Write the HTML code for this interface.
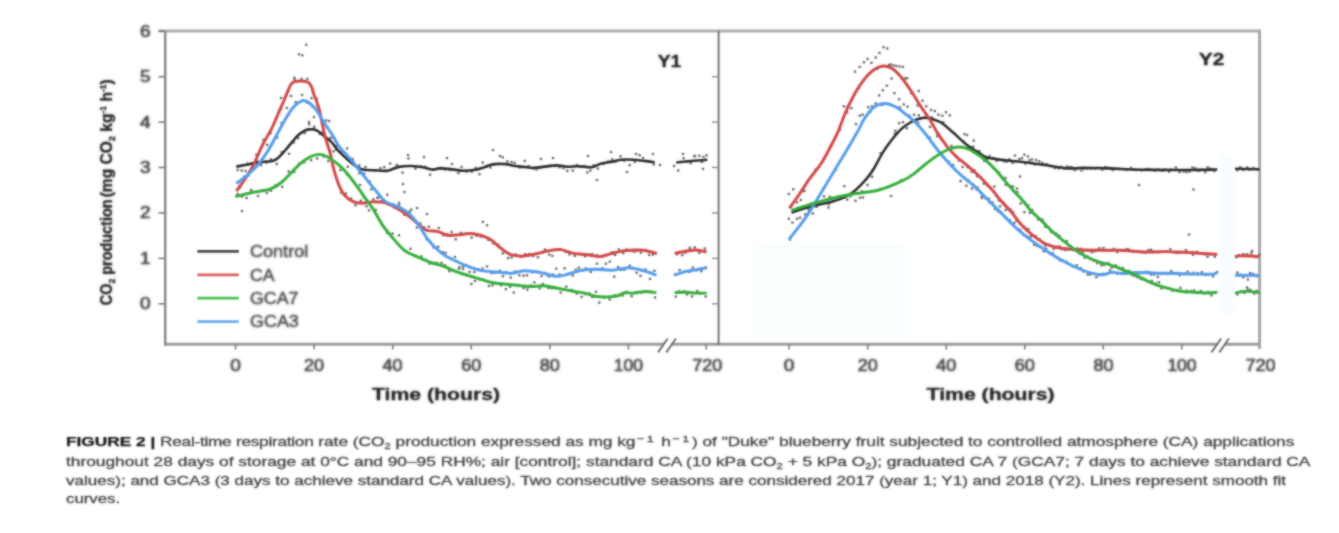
<!DOCTYPE html>
<html lang="en">
<head>
<meta charset="utf-8">
<title>Figure 2 - Real-time respiration rate</title>
<style>
html,body{margin:0;padding:0;background:#fff;}
body{width:1339px;height:533px;position:relative;overflow:hidden;font-family:"Liberation Sans",Arial,sans-serif;}
.fig{position:absolute;left:0;top:0;}
.cap{position:absolute;left:0;top:0;width:1339px;height:533px;filter:url(#softc);}
.cl{position:absolute;left:65.8px;white-space:nowrap;font-size:13px;line-height:19px;height:19px;color:#3c3c3c;-webkit-text-stroke:0.28px #3c3c3c;transform-origin:0 50%;}
.tt{letter-spacing:-0.21px;}
.cl b{color:#111;font-weight:bold;-webkit-text-stroke:0.25px #111;}
.cl sub,.cl sup{font-size:8.5px;line-height:0;position:relative;vertical-align:baseline;}
.cl sub{top:2.5px;}
.cl sup{top:-4.5px;font-size:9.5px;letter-spacing:2px;margin-left:1px;}
</style>
</head>
<body>
<svg class="fig" width="1339" height="533" viewBox="0 0 1339 533">
<defs><filter id="soft" x="0" y="0" width="100%" height="100%" color-interpolation-filters="sRGB"><feGaussianBlur stdDeviation="1.0" result="b"/><feComposite in="SourceGraphic" in2="b" operator="arithmetic" k1="0" k2="0.4" k3="0.6" k4="0"/></filter><filter id="softt" x="-2%" y="-2%" width="104%" height="104%" color-interpolation-filters="sRGB"><feGaussianBlur stdDeviation="0.9" result="b"/><feComposite in="SourceGraphic" in2="b" operator="arithmetic" k1="0" k2="0.3" k3="0.7" k4="0"/></filter><filter id="softb" x="-2%" y="-2%" width="104%" height="104%" color-interpolation-filters="sRGB"><feGaussianBlur stdDeviation="0.85" result="b"/><feComposite in="SourceGraphic" in2="b" operator="arithmetic" k1="0" k2="0.5" k3="0.5" k4="0"/></filter><filter id="softc" x="0" y="0" width="100%" height="100%" color-interpolation-filters="sRGB"><feGaussianBlur stdDeviation="1.0" result="b"/><feComposite in="SourceGraphic" in2="b" operator="arithmetic" k1="0" k2="0.25" k3="0.75" k4="0"/></filter></defs>
<g filter="url(#soft)">
<rect x="754.3" y="243.2" width="152" height="93.8" fill="#fafeff"/>
<rect x="1220" y="154" width="14" height="160" fill="#f8fdff"/>
<g fill="none">
<path d="M158.5,31 H1261" stroke="#aeaeae" stroke-width="3.2"/>
<path d="M164.3,344.2 H664 M671,344.2 H1218.2 M1224.8,344.2 H1260.8" stroke="#9c9c9c" stroke-width="3"/>
<path d="M165.2,31 V345.4" stroke="#868686" stroke-width="2.4"/>
<path d="M718.6,31 V345" stroke="#6e6e6e" stroke-width="1.9"/>
<path d="M1259.6,31 V349" stroke="#a2a2a2" stroke-width="2.8"/>
<path d="M158.5,303.8 H165" stroke="#7a7a7a" stroke-width="1.6"/>
<path d="M712,303.8 H718.6" stroke="#8a8a8a" stroke-width="1.4"/>
<path d="M158.5,258.4 H165" stroke="#7a7a7a" stroke-width="1.6"/>
<path d="M712,258.4 H718.6" stroke="#8a8a8a" stroke-width="1.4"/>
<path d="M158.5,212.9 H165" stroke="#7a7a7a" stroke-width="1.6"/>
<path d="M712,212.9 H718.6" stroke="#8a8a8a" stroke-width="1.4"/>
<path d="M158.5,167.5 H165" stroke="#7a7a7a" stroke-width="1.6"/>
<path d="M712,167.5 H718.6" stroke="#8a8a8a" stroke-width="1.4"/>
<path d="M158.5,122.1 H165" stroke="#7a7a7a" stroke-width="1.6"/>
<path d="M712,122.1 H718.6" stroke="#8a8a8a" stroke-width="1.4"/>
<path d="M158.5,76.7 H165" stroke="#7a7a7a" stroke-width="1.6"/>
<path d="M712,76.7 H718.6" stroke="#8a8a8a" stroke-width="1.4"/>
<path d="M158.5,31.2 H165" stroke="#7a7a7a" stroke-width="1.6"/>
<path d="M235.5,344 V349.6" stroke="#858585" stroke-width="1.7"/>
<path d="M314.1,344 V349.6" stroke="#858585" stroke-width="1.7"/>
<path d="M392.7,344 V349.6" stroke="#858585" stroke-width="1.7"/>
<path d="M471.3,344 V349.6" stroke="#858585" stroke-width="1.7"/>
<path d="M549.9,344 V349.6" stroke="#858585" stroke-width="1.7"/>
<path d="M628.4,344 V349.6" stroke="#858585" stroke-width="1.7"/>
<path d="M706.2,344 V349.6" stroke="#858585" stroke-width="1.7"/>
<path d="M789.1,344 V349.6" stroke="#858585" stroke-width="1.7"/>
<path d="M867.7,344 V349.6" stroke="#858585" stroke-width="1.7"/>
<path d="M946.3,344 V349.6" stroke="#858585" stroke-width="1.7"/>
<path d="M1024.8,344 V349.6" stroke="#858585" stroke-width="1.7"/>
<path d="M1103.3,344 V349.6" stroke="#858585" stroke-width="1.7"/>
<path d="M1181.8,344 V349.6" stroke="#858585" stroke-width="1.7"/>
<path d="M658.1,352.4 L667.7,338.5" stroke="#707070" stroke-width="2"/>
<path d="M666.3,352.4 L675.9,338.5" stroke="#707070" stroke-width="2"/>
<path d="M1211.5,352.4 L1221.1,338.5" stroke="#707070" stroke-width="2"/>
<path d="M1219.3,352.4 L1228.9,338.5" stroke="#707070" stroke-width="2"/>
</g>
<g fill="#6f6f6f">
<rect x="236.5" y="168.7" width="2.4" height="2.4"/>
<rect x="240.5" y="169.3" width="2.4" height="2.4"/>
<rect x="246.2" y="162.4" width="2.4" height="2.4"/>
<rect x="251.7" y="163.3" width="2.4" height="2.4"/>
<rect x="255.7" y="160.1" width="2.4" height="2.4"/>
<rect x="259.8" y="161.5" width="2.4" height="2.4"/>
<rect x="265.1" y="161.4" width="2.4" height="2.4"/>
<rect x="269.7" y="158.1" width="2.4" height="2.4"/>
<rect x="275.6" y="162.8" width="2.4" height="2.4"/>
<rect x="280.7" y="151.0" width="2.4" height="2.4"/>
<rect x="287.8" y="152.6" width="2.4" height="2.4"/>
<rect x="292.6" y="141.2" width="2.4" height="2.4"/>
<rect x="296.9" y="136.9" width="2.4" height="2.4"/>
<rect x="303.5" y="131.9" width="2.4" height="2.4"/>
<rect x="307.9" y="123.0" width="2.4" height="2.4"/>
<rect x="313.0" y="125.5" width="2.4" height="2.4"/>
<rect x="318.7" y="132.7" width="2.4" height="2.4"/>
<rect x="323.2" y="135.5" width="2.4" height="2.4"/>
<rect x="329.3" y="136.7" width="2.4" height="2.4"/>
<rect x="335.1" y="148.6" width="2.4" height="2.4"/>
<rect x="340.4" y="150.4" width="2.4" height="2.4"/>
<rect x="346.6" y="165.6" width="2.4" height="2.4"/>
<rect x="351.2" y="157.7" width="2.4" height="2.4"/>
<rect x="358.0" y="164.3" width="2.4" height="2.4"/>
<rect x="364.2" y="165.9" width="2.4" height="2.4"/>
<rect x="368.5" y="180.3" width="2.4" height="2.4"/>
<rect x="373.7" y="169.2" width="2.4" height="2.4"/>
<rect x="379.2" y="166.9" width="2.4" height="2.4"/>
<rect x="383.1" y="165.9" width="2.4" height="2.4"/>
<rect x="388.9" y="162.4" width="2.4" height="2.4"/>
<rect x="395.6" y="163.8" width="2.4" height="2.4"/>
<rect x="401.4" y="171.4" width="2.4" height="2.4"/>
<rect x="407.2" y="157.3" width="2.4" height="2.4"/>
<rect x="414.2" y="167.4" width="2.4" height="2.4"/>
<rect x="419.6" y="165.3" width="2.4" height="2.4"/>
<rect x="424.3" y="165.8" width="2.4" height="2.4"/>
<rect x="428.9" y="173.4" width="2.4" height="2.4"/>
<rect x="432.5" y="168.0" width="2.4" height="2.4"/>
<rect x="436.4" y="167.3" width="2.4" height="2.4"/>
<rect x="440.5" y="166.8" width="2.4" height="2.4"/>
<rect x="443.9" y="168.3" width="2.4" height="2.4"/>
<rect x="448.8" y="168.6" width="2.4" height="2.4"/>
<rect x="452.0" y="168.3" width="2.4" height="2.4"/>
<rect x="457.2" y="171.9" width="2.4" height="2.4"/>
<rect x="460.3" y="165.8" width="2.4" height="2.4"/>
<rect x="465.5" y="170.4" width="2.4" height="2.4"/>
<rect x="470.5" y="170.4" width="2.4" height="2.4"/>
<rect x="474.5" y="166.7" width="2.4" height="2.4"/>
<rect x="478.3" y="173.0" width="2.4" height="2.4"/>
<rect x="481.6" y="161.3" width="2.4" height="2.4"/>
<rect x="485.0" y="165.6" width="2.4" height="2.4"/>
<rect x="489.2" y="166.3" width="2.4" height="2.4"/>
<rect x="493.6" y="162.9" width="2.4" height="2.4"/>
<rect x="497.6" y="163.2" width="2.4" height="2.4"/>
<rect x="501.5" y="156.1" width="2.4" height="2.4"/>
<rect x="506.1" y="160.2" width="2.4" height="2.4"/>
<rect x="510.4" y="160.8" width="2.4" height="2.4"/>
<rect x="513.5" y="161.7" width="2.4" height="2.4"/>
<rect x="518.7" y="166.4" width="2.4" height="2.4"/>
<rect x="523.6" y="159.7" width="2.4" height="2.4"/>
<rect x="527.5" y="165.0" width="2.4" height="2.4"/>
<rect x="532.1" y="167.4" width="2.4" height="2.4"/>
<rect x="535.2" y="168.2" width="2.4" height="2.4"/>
<rect x="538.5" y="166.8" width="2.4" height="2.4"/>
<rect x="542.3" y="165.6" width="2.4" height="2.4"/>
<rect x="545.6" y="165.2" width="2.4" height="2.4"/>
<rect x="548.8" y="164.4" width="2.4" height="2.4"/>
<rect x="554.0" y="164.8" width="2.4" height="2.4"/>
<rect x="558.5" y="166.0" width="2.4" height="2.4"/>
<rect x="562.3" y="166.9" width="2.4" height="2.4"/>
<rect x="566.1" y="169.7" width="2.4" height="2.4"/>
<rect x="571.6" y="169.4" width="2.4" height="2.4"/>
<rect x="575.7" y="163.9" width="2.4" height="2.4"/>
<rect x="578.9" y="165.3" width="2.4" height="2.4"/>
<rect x="582.7" y="164.9" width="2.4" height="2.4"/>
<rect x="586.1" y="171.3" width="2.4" height="2.4"/>
<rect x="589.1" y="169.4" width="2.4" height="2.4"/>
<rect x="592.4" y="164.2" width="2.4" height="2.4"/>
<rect x="596.7" y="167.3" width="2.4" height="2.4"/>
<rect x="602.1" y="162.6" width="2.4" height="2.4"/>
<rect x="607.2" y="160.3" width="2.4" height="2.4"/>
<rect x="611.1" y="158.2" width="2.4" height="2.4"/>
<rect x="614.4" y="160.3" width="2.4" height="2.4"/>
<rect x="619.3" y="155.1" width="2.4" height="2.4"/>
<rect x="623.1" y="159.4" width="2.4" height="2.4"/>
<rect x="628.5" y="163.9" width="2.4" height="2.4"/>
<rect x="633.6" y="160.6" width="2.4" height="2.4"/>
<rect x="638.4" y="154.0" width="2.4" height="2.4"/>
<rect x="641.9" y="156.9" width="2.4" height="2.4"/>
<rect x="644.9" y="159.7" width="2.4" height="2.4"/>
<rect x="647.9" y="159.9" width="2.4" height="2.4"/>
<rect x="652.6" y="163.2" width="2.4" height="2.4"/>
<rect x="677.0" y="169.3" width="2.4" height="2.4"/>
<rect x="682.3" y="157.1" width="2.4" height="2.4"/>
<rect x="686.2" y="160.6" width="2.4" height="2.4"/>
<rect x="689.6" y="162.0" width="2.4" height="2.4"/>
<rect x="693.1" y="155.0" width="2.4" height="2.4"/>
<rect x="698.1" y="154.6" width="2.4" height="2.4"/>
<rect x="702.3" y="155.7" width="2.4" height="2.4"/>
<rect x="705.4" y="154.1" width="2.4" height="2.4"/>
<rect x="238.9" y="186.0" width="2.4" height="2.4"/>
<rect x="244.3" y="169.8" width="2.4" height="2.4"/>
<rect x="248.8" y="170.4" width="2.4" height="2.4"/>
<rect x="255.3" y="153.4" width="2.4" height="2.4"/>
<rect x="262.3" y="138.6" width="2.4" height="2.4"/>
<rect x="269.3" y="132.0" width="2.4" height="2.4"/>
<rect x="275.6" y="116.7" width="2.4" height="2.4"/>
<rect x="279.9" y="107.7" width="2.4" height="2.4"/>
<rect x="286.7" y="90.4" width="2.4" height="2.4"/>
<rect x="293.3" y="78.4" width="2.4" height="2.4"/>
<rect x="300.4" y="77.7" width="2.4" height="2.4"/>
<rect x="306.1" y="77.7" width="2.4" height="2.4"/>
<rect x="310.3" y="96.9" width="2.4" height="2.4"/>
<rect x="316.3" y="104.2" width="2.4" height="2.4"/>
<rect x="321.9" y="130.7" width="2.4" height="2.4"/>
<rect x="328.7" y="149.0" width="2.4" height="2.4"/>
<rect x="335.2" y="176.9" width="2.4" height="2.4"/>
<rect x="340.0" y="191.3" width="2.4" height="2.4"/>
<rect x="344.7" y="192.4" width="2.4" height="2.4"/>
<rect x="349.9" y="197.3" width="2.4" height="2.4"/>
<rect x="354.2" y="204.0" width="2.4" height="2.4"/>
<rect x="359.6" y="199.6" width="2.4" height="2.4"/>
<rect x="365.3" y="205.0" width="2.4" height="2.4"/>
<rect x="372.2" y="198.2" width="2.4" height="2.4"/>
<rect x="377.7" y="195.9" width="2.4" height="2.4"/>
<rect x="381.6" y="200.4" width="2.4" height="2.4"/>
<rect x="386.9" y="203.0" width="2.4" height="2.4"/>
<rect x="393.4" y="206.2" width="2.4" height="2.4"/>
<rect x="397.8" y="201.7" width="2.4" height="2.4"/>
<rect x="403.5" y="213.3" width="2.4" height="2.4"/>
<rect x="408.5" y="210.4" width="2.4" height="2.4"/>
<rect x="414.9" y="220.4" width="2.4" height="2.4"/>
<rect x="419.1" y="222.3" width="2.4" height="2.4"/>
<rect x="422.7" y="226.2" width="2.4" height="2.4"/>
<rect x="427.6" y="225.5" width="2.4" height="2.4"/>
<rect x="432.5" y="229.7" width="2.4" height="2.4"/>
<rect x="437.7" y="226.8" width="2.4" height="2.4"/>
<rect x="441.9" y="233.8" width="2.4" height="2.4"/>
<rect x="446.2" y="232.9" width="2.4" height="2.4"/>
<rect x="450.4" y="230.8" width="2.4" height="2.4"/>
<rect x="454.6" y="238.1" width="2.4" height="2.4"/>
<rect x="459.7" y="231.7" width="2.4" height="2.4"/>
<rect x="465.1" y="232.5" width="2.4" height="2.4"/>
<rect x="470.4" y="236.4" width="2.4" height="2.4"/>
<rect x="475.4" y="234.5" width="2.4" height="2.4"/>
<rect x="479.5" y="235.3" width="2.4" height="2.4"/>
<rect x="482.6" y="235.5" width="2.4" height="2.4"/>
<rect x="487.2" y="238.6" width="2.4" height="2.4"/>
<rect x="492.1" y="242.1" width="2.4" height="2.4"/>
<rect x="496.9" y="243.6" width="2.4" height="2.4"/>
<rect x="501.5" y="252.1" width="2.4" height="2.4"/>
<rect x="506.9" y="256.8" width="2.4" height="2.4"/>
<rect x="510.4" y="256.2" width="2.4" height="2.4"/>
<rect x="514.5" y="253.3" width="2.4" height="2.4"/>
<rect x="520.0" y="255.6" width="2.4" height="2.4"/>
<rect x="524.0" y="253.0" width="2.4" height="2.4"/>
<rect x="528.2" y="252.8" width="2.4" height="2.4"/>
<rect x="532.0" y="254.8" width="2.4" height="2.4"/>
<rect x="536.7" y="256.0" width="2.4" height="2.4"/>
<rect x="540.8" y="251.6" width="2.4" height="2.4"/>
<rect x="543.8" y="248.4" width="2.4" height="2.4"/>
<rect x="548.0" y="253.3" width="2.4" height="2.4"/>
<rect x="551.1" y="254.6" width="2.4" height="2.4"/>
<rect x="556.5" y="248.2" width="2.4" height="2.4"/>
<rect x="559.7" y="248.4" width="2.4" height="2.4"/>
<rect x="564.6" y="250.7" width="2.4" height="2.4"/>
<rect x="568.2" y="253.1" width="2.4" height="2.4"/>
<rect x="573.5" y="254.6" width="2.4" height="2.4"/>
<rect x="578.5" y="252.7" width="2.4" height="2.4"/>
<rect x="583.7" y="255.0" width="2.4" height="2.4"/>
<rect x="588.1" y="253.4" width="2.4" height="2.4"/>
<rect x="591.2" y="253.1" width="2.4" height="2.4"/>
<rect x="595.9" y="253.9" width="2.4" height="2.4"/>
<rect x="601.2" y="255.3" width="2.4" height="2.4"/>
<rect x="605.7" y="254.0" width="2.4" height="2.4"/>
<rect x="610.8" y="251.1" width="2.4" height="2.4"/>
<rect x="613.9" y="253.7" width="2.4" height="2.4"/>
<rect x="617.7" y="248.2" width="2.4" height="2.4"/>
<rect x="622.0" y="251.9" width="2.4" height="2.4"/>
<rect x="625.3" y="248.3" width="2.4" height="2.4"/>
<rect x="629.6" y="249.3" width="2.4" height="2.4"/>
<rect x="632.9" y="250.5" width="2.4" height="2.4"/>
<rect x="636.0" y="249.7" width="2.4" height="2.4"/>
<rect x="639.7" y="251.4" width="2.4" height="2.4"/>
<rect x="644.5" y="248.8" width="2.4" height="2.4"/>
<rect x="647.9" y="253.7" width="2.4" height="2.4"/>
<rect x="651.7" y="253.5" width="2.4" height="2.4"/>
<rect x="654.7" y="252.3" width="2.4" height="2.4"/>
<rect x="675.8" y="253.0" width="2.4" height="2.4"/>
<rect x="681.1" y="253.9" width="2.4" height="2.4"/>
<rect x="684.3" y="251.4" width="2.4" height="2.4"/>
<rect x="688.5" y="246.6" width="2.4" height="2.4"/>
<rect x="693.5" y="246.2" width="2.4" height="2.4"/>
<rect x="698.2" y="251.6" width="2.4" height="2.4"/>
<rect x="703.6" y="247.3" width="2.4" height="2.4"/>
<rect x="237.8" y="186.9" width="2.4" height="2.4"/>
<rect x="243.0" y="175.5" width="2.4" height="2.4"/>
<rect x="247.2" y="174.0" width="2.4" height="2.4"/>
<rect x="251.3" y="168.6" width="2.4" height="2.4"/>
<rect x="255.7" y="161.3" width="2.4" height="2.4"/>
<rect x="259.8" y="164.0" width="2.4" height="2.4"/>
<rect x="265.9" y="143.7" width="2.4" height="2.4"/>
<rect x="270.7" y="142.7" width="2.4" height="2.4"/>
<rect x="276.0" y="136.2" width="2.4" height="2.4"/>
<rect x="280.4" y="121.8" width="2.4" height="2.4"/>
<rect x="287.4" y="113.7" width="2.4" height="2.4"/>
<rect x="294.5" y="100.9" width="2.4" height="2.4"/>
<rect x="301.5" y="99.4" width="2.4" height="2.4"/>
<rect x="306.4" y="101.5" width="2.4" height="2.4"/>
<rect x="311.5" y="105.5" width="2.4" height="2.4"/>
<rect x="316.9" y="109.2" width="2.4" height="2.4"/>
<rect x="322.4" y="120.8" width="2.4" height="2.4"/>
<rect x="326.3" y="126.4" width="2.4" height="2.4"/>
<rect x="331.5" y="136.2" width="2.4" height="2.4"/>
<rect x="335.5" y="144.6" width="2.4" height="2.4"/>
<rect x="340.1" y="148.3" width="2.4" height="2.4"/>
<rect x="345.9" y="147.2" width="2.4" height="2.4"/>
<rect x="351.9" y="159.9" width="2.4" height="2.4"/>
<rect x="358.1" y="171.9" width="2.4" height="2.4"/>
<rect x="363.0" y="172.4" width="2.4" height="2.4"/>
<rect x="370.1" y="188.1" width="2.4" height="2.4"/>
<rect x="376.1" y="196.7" width="2.4" height="2.4"/>
<rect x="380.1" y="200.2" width="2.4" height="2.4"/>
<rect x="386.0" y="193.5" width="2.4" height="2.4"/>
<rect x="392.3" y="204.6" width="2.4" height="2.4"/>
<rect x="397.9" y="204.2" width="2.4" height="2.4"/>
<rect x="403.4" y="213.4" width="2.4" height="2.4"/>
<rect x="410.0" y="208.4" width="2.4" height="2.4"/>
<rect x="415.7" y="226.3" width="2.4" height="2.4"/>
<rect x="421.9" y="228.0" width="2.4" height="2.4"/>
<rect x="425.4" y="238.0" width="2.4" height="2.4"/>
<rect x="429.2" y="241.1" width="2.4" height="2.4"/>
<rect x="432.4" y="246.3" width="2.4" height="2.4"/>
<rect x="437.0" y="245.5" width="2.4" height="2.4"/>
<rect x="441.5" y="251.0" width="2.4" height="2.4"/>
<rect x="444.4" y="251.7" width="2.4" height="2.4"/>
<rect x="449.4" y="257.2" width="2.4" height="2.4"/>
<rect x="453.7" y="255.8" width="2.4" height="2.4"/>
<rect x="458.3" y="266.1" width="2.4" height="2.4"/>
<rect x="461.9" y="265.1" width="2.4" height="2.4"/>
<rect x="465.0" y="263.9" width="2.4" height="2.4"/>
<rect x="468.4" y="270.7" width="2.4" height="2.4"/>
<rect x="473.2" y="270.8" width="2.4" height="2.4"/>
<rect x="477.1" y="268.0" width="2.4" height="2.4"/>
<rect x="481.3" y="267.4" width="2.4" height="2.4"/>
<rect x="485.8" y="265.2" width="2.4" height="2.4"/>
<rect x="490.3" y="271.9" width="2.4" height="2.4"/>
<rect x="493.9" y="271.5" width="2.4" height="2.4"/>
<rect x="498.7" y="269.8" width="2.4" height="2.4"/>
<rect x="501.7" y="275.0" width="2.4" height="2.4"/>
<rect x="504.8" y="271.0" width="2.4" height="2.4"/>
<rect x="509.5" y="276.4" width="2.4" height="2.4"/>
<rect x="514.1" y="270.4" width="2.4" height="2.4"/>
<rect x="518.2" y="274.1" width="2.4" height="2.4"/>
<rect x="522.4" y="274.5" width="2.4" height="2.4"/>
<rect x="525.8" y="274.1" width="2.4" height="2.4"/>
<rect x="531.2" y="271.0" width="2.4" height="2.4"/>
<rect x="535.3" y="270.7" width="2.4" height="2.4"/>
<rect x="540.3" y="274.9" width="2.4" height="2.4"/>
<rect x="543.9" y="271.8" width="2.4" height="2.4"/>
<rect x="547.4" y="275.2" width="2.4" height="2.4"/>
<rect x="551.8" y="273.5" width="2.4" height="2.4"/>
<rect x="555.1" y="267.6" width="2.4" height="2.4"/>
<rect x="558.4" y="273.4" width="2.4" height="2.4"/>
<rect x="563.4" y="267.2" width="2.4" height="2.4"/>
<rect x="568.1" y="272.1" width="2.4" height="2.4"/>
<rect x="571.6" y="274.3" width="2.4" height="2.4"/>
<rect x="574.6" y="268.6" width="2.4" height="2.4"/>
<rect x="577.6" y="266.5" width="2.4" height="2.4"/>
<rect x="581.3" y="269.2" width="2.4" height="2.4"/>
<rect x="584.6" y="267.3" width="2.4" height="2.4"/>
<rect x="589.6" y="270.6" width="2.4" height="2.4"/>
<rect x="592.6" y="268.3" width="2.4" height="2.4"/>
<rect x="595.8" y="262.4" width="2.4" height="2.4"/>
<rect x="601.1" y="267.0" width="2.4" height="2.4"/>
<rect x="604.7" y="262.5" width="2.4" height="2.4"/>
<rect x="608.6" y="260.4" width="2.4" height="2.4"/>
<rect x="613.0" y="275.5" width="2.4" height="2.4"/>
<rect x="616.9" y="265.9" width="2.4" height="2.4"/>
<rect x="620.0" y="268.6" width="2.4" height="2.4"/>
<rect x="623.2" y="268.4" width="2.4" height="2.4"/>
<rect x="628.5" y="264.6" width="2.4" height="2.4"/>
<rect x="632.0" y="267.0" width="2.4" height="2.4"/>
<rect x="635.4" y="271.5" width="2.4" height="2.4"/>
<rect x="639.3" y="274.7" width="2.4" height="2.4"/>
<rect x="644.3" y="268.4" width="2.4" height="2.4"/>
<rect x="648.8" y="277.7" width="2.4" height="2.4"/>
<rect x="653.2" y="269.6" width="2.4" height="2.4"/>
<rect x="673.7" y="273.4" width="2.4" height="2.4"/>
<rect x="678.5" y="268.9" width="2.4" height="2.4"/>
<rect x="683.1" y="270.4" width="2.4" height="2.4"/>
<rect x="688.4" y="270.6" width="2.4" height="2.4"/>
<rect x="691.6" y="266.4" width="2.4" height="2.4"/>
<rect x="695.3" y="268.9" width="2.4" height="2.4"/>
<rect x="700.1" y="269.9" width="2.4" height="2.4"/>
<rect x="704.7" y="266.4" width="2.4" height="2.4"/>
<rect x="236.4" y="192.8" width="2.4" height="2.4"/>
<rect x="240.8" y="195.3" width="2.4" height="2.4"/>
<rect x="245.4" y="196.8" width="2.4" height="2.4"/>
<rect x="249.9" y="188.8" width="2.4" height="2.4"/>
<rect x="256.8" y="194.8" width="2.4" height="2.4"/>
<rect x="261.1" y="189.3" width="2.4" height="2.4"/>
<rect x="265.6" y="191.7" width="2.4" height="2.4"/>
<rect x="269.7" y="189.4" width="2.4" height="2.4"/>
<rect x="274.4" y="184.4" width="2.4" height="2.4"/>
<rect x="281.1" y="185.7" width="2.4" height="2.4"/>
<rect x="287.5" y="170.3" width="2.4" height="2.4"/>
<rect x="293.0" y="170.7" width="2.4" height="2.4"/>
<rect x="298.1" y="162.5" width="2.4" height="2.4"/>
<rect x="302.9" y="161.0" width="2.4" height="2.4"/>
<rect x="309.9" y="159.0" width="2.4" height="2.4"/>
<rect x="315.9" y="157.2" width="2.4" height="2.4"/>
<rect x="322.6" y="155.2" width="2.4" height="2.4"/>
<rect x="327.2" y="159.8" width="2.4" height="2.4"/>
<rect x="332.4" y="150.1" width="2.4" height="2.4"/>
<rect x="339.1" y="168.7" width="2.4" height="2.4"/>
<rect x="345.8" y="173.1" width="2.4" height="2.4"/>
<rect x="352.0" y="180.3" width="2.4" height="2.4"/>
<rect x="358.8" y="183.9" width="2.4" height="2.4"/>
<rect x="362.6" y="195.9" width="2.4" height="2.4"/>
<rect x="367.8" y="209.1" width="2.4" height="2.4"/>
<rect x="374.5" y="208.8" width="2.4" height="2.4"/>
<rect x="381.5" y="224.0" width="2.4" height="2.4"/>
<rect x="385.9" y="231.6" width="2.4" height="2.4"/>
<rect x="391.4" y="232.4" width="2.4" height="2.4"/>
<rect x="397.7" y="234.1" width="2.4" height="2.4"/>
<rect x="403.7" y="249.8" width="2.4" height="2.4"/>
<rect x="409.3" y="247.6" width="2.4" height="2.4"/>
<rect x="413.3" y="254.8" width="2.4" height="2.4"/>
<rect x="420.2" y="255.2" width="2.4" height="2.4"/>
<rect x="424.8" y="258.8" width="2.4" height="2.4"/>
<rect x="428.3" y="262.3" width="2.4" height="2.4"/>
<rect x="432.9" y="261.8" width="2.4" height="2.4"/>
<rect x="436.0" y="261.8" width="2.4" height="2.4"/>
<rect x="440.3" y="261.8" width="2.4" height="2.4"/>
<rect x="443.8" y="264.1" width="2.4" height="2.4"/>
<rect x="448.2" y="270.0" width="2.4" height="2.4"/>
<rect x="452.3" y="269.4" width="2.4" height="2.4"/>
<rect x="457.7" y="267.5" width="2.4" height="2.4"/>
<rect x="461.8" y="267.7" width="2.4" height="2.4"/>
<rect x="465.3" y="273.9" width="2.4" height="2.4"/>
<rect x="470.1" y="282.8" width="2.4" height="2.4"/>
<rect x="473.8" y="279.8" width="2.4" height="2.4"/>
<rect x="478.4" y="278.2" width="2.4" height="2.4"/>
<rect x="482.4" y="278.7" width="2.4" height="2.4"/>
<rect x="487.7" y="284.8" width="2.4" height="2.4"/>
<rect x="491.2" y="284.1" width="2.4" height="2.4"/>
<rect x="495.2" y="282.5" width="2.4" height="2.4"/>
<rect x="499.9" y="284.1" width="2.4" height="2.4"/>
<rect x="504.7" y="288.0" width="2.4" height="2.4"/>
<rect x="508.9" y="285.5" width="2.4" height="2.4"/>
<rect x="512.6" y="291.3" width="2.4" height="2.4"/>
<rect x="517.6" y="284.5" width="2.4" height="2.4"/>
<rect x="522.5" y="286.8" width="2.4" height="2.4"/>
<rect x="526.1" y="288.4" width="2.4" height="2.4"/>
<rect x="529.6" y="284.3" width="2.4" height="2.4"/>
<rect x="533.1" y="281.3" width="2.4" height="2.4"/>
<rect x="538.4" y="287.0" width="2.4" height="2.4"/>
<rect x="541.7" y="282.9" width="2.4" height="2.4"/>
<rect x="547.1" y="286.6" width="2.4" height="2.4"/>
<rect x="550.4" y="287.0" width="2.4" height="2.4"/>
<rect x="554.3" y="287.0" width="2.4" height="2.4"/>
<rect x="559.5" y="291.3" width="2.4" height="2.4"/>
<rect x="565.0" y="285.5" width="2.4" height="2.4"/>
<rect x="570.3" y="288.8" width="2.4" height="2.4"/>
<rect x="575.6" y="292.3" width="2.4" height="2.4"/>
<rect x="580.4" y="295.7" width="2.4" height="2.4"/>
<rect x="584.3" y="292.9" width="2.4" height="2.4"/>
<rect x="588.2" y="292.3" width="2.4" height="2.4"/>
<rect x="591.1" y="295.7" width="2.4" height="2.4"/>
<rect x="594.8" y="290.7" width="2.4" height="2.4"/>
<rect x="598.0" y="301.4" width="2.4" height="2.4"/>
<rect x="603.4" y="296.3" width="2.4" height="2.4"/>
<rect x="608.4" y="298.2" width="2.4" height="2.4"/>
<rect x="613.4" y="294.2" width="2.4" height="2.4"/>
<rect x="617.5" y="294.5" width="2.4" height="2.4"/>
<rect x="621.4" y="294.3" width="2.4" height="2.4"/>
<rect x="625.3" y="290.7" width="2.4" height="2.4"/>
<rect x="630.5" y="294.9" width="2.4" height="2.4"/>
<rect x="635.5" y="291.9" width="2.4" height="2.4"/>
<rect x="640.3" y="291.5" width="2.4" height="2.4"/>
<rect x="643.4" y="290.7" width="2.4" height="2.4"/>
<rect x="648.7" y="290.7" width="2.4" height="2.4"/>
<rect x="653.9" y="296.3" width="2.4" height="2.4"/>
<rect x="674.6" y="295.4" width="2.4" height="2.4"/>
<rect x="678.2" y="290.2" width="2.4" height="2.4"/>
<rect x="683.0" y="290.1" width="2.4" height="2.4"/>
<rect x="685.9" y="293.2" width="2.4" height="2.4"/>
<rect x="690.8" y="295.2" width="2.4" height="2.4"/>
<rect x="696.1" y="289.8" width="2.4" height="2.4"/>
<rect x="699.1" y="292.2" width="2.4" height="2.4"/>
<rect x="704.5" y="295.3" width="2.4" height="2.4"/>
<rect x="791.6" y="210.9" width="2.4" height="2.4"/>
<rect x="807.6" y="208.5" width="2.4" height="2.4"/>
<rect x="827.7" y="202.8" width="2.4" height="2.4"/>
<rect x="846.0" y="198.4" width="2.4" height="2.4"/>
<rect x="865.0" y="178.2" width="2.4" height="2.4"/>
<rect x="879.4" y="152.1" width="2.4" height="2.4"/>
<rect x="893.7" y="132.4" width="2.4" height="2.4"/>
<rect x="905.6" y="127.0" width="2.4" height="2.4"/>
<rect x="918.7" y="117.6" width="2.4" height="2.4"/>
<rect x="930.5" y="116.1" width="2.4" height="2.4"/>
<rect x="942.1" y="121.1" width="2.4" height="2.4"/>
<rect x="962.7" y="140.6" width="2.4" height="2.4"/>
<rect x="966.9" y="145.5" width="2.4" height="2.4"/>
<rect x="969.4" y="146.0" width="2.4" height="2.4"/>
<rect x="972.0" y="145.5" width="2.4" height="2.4"/>
<rect x="975.3" y="150.0" width="2.4" height="2.4"/>
<rect x="978.1" y="150.0" width="2.4" height="2.4"/>
<rect x="981.9" y="155.1" width="2.4" height="2.4"/>
<rect x="985.8" y="157.6" width="2.4" height="2.4"/>
<rect x="988.4" y="154.9" width="2.4" height="2.4"/>
<rect x="992.5" y="156.8" width="2.4" height="2.4"/>
<rect x="995.7" y="159.7" width="2.4" height="2.4"/>
<rect x="999.5" y="158.7" width="2.4" height="2.4"/>
<rect x="1002.4" y="159.9" width="2.4" height="2.4"/>
<rect x="1005.1" y="160.6" width="2.4" height="2.4"/>
<rect x="1008.2" y="158.2" width="2.4" height="2.4"/>
<rect x="1011.4" y="161.6" width="2.4" height="2.4"/>
<rect x="1014.2" y="160.0" width="2.4" height="2.4"/>
<rect x="1018.2" y="157.9" width="2.4" height="2.4"/>
<rect x="1020.8" y="157.0" width="2.4" height="2.4"/>
<rect x="1024.2" y="162.3" width="2.4" height="2.4"/>
<rect x="1028.4" y="159.1" width="2.4" height="2.4"/>
<rect x="1030.9" y="161.8" width="2.4" height="2.4"/>
<rect x="1033.6" y="163.1" width="2.4" height="2.4"/>
<rect x="1038.0" y="160.0" width="2.4" height="2.4"/>
<rect x="1041.1" y="161.7" width="2.4" height="2.4"/>
<rect x="1045.3" y="162.9" width="2.4" height="2.4"/>
<rect x="1049.3" y="165.0" width="2.4" height="2.4"/>
<rect x="1053.6" y="166.9" width="2.4" height="2.4"/>
<rect x="1057.2" y="167.1" width="2.4" height="2.4"/>
<rect x="1060.0" y="165.7" width="2.4" height="2.4"/>
<rect x="1062.8" y="167.3" width="2.4" height="2.4"/>
<rect x="1065.7" y="165.3" width="2.4" height="2.4"/>
<rect x="1068.5" y="165.8" width="2.4" height="2.4"/>
<rect x="1070.9" y="166.0" width="2.4" height="2.4"/>
<rect x="1073.7" y="168.9" width="2.4" height="2.4"/>
<rect x="1076.7" y="167.6" width="2.4" height="2.4"/>
<rect x="1080.2" y="169.2" width="2.4" height="2.4"/>
<rect x="1082.7" y="167.8" width="2.4" height="2.4"/>
<rect x="1086.2" y="167.6" width="2.4" height="2.4"/>
<rect x="1089.9" y="167.5" width="2.4" height="2.4"/>
<rect x="1093.7" y="167.4" width="2.4" height="2.4"/>
<rect x="1096.9" y="166.7" width="2.4" height="2.4"/>
<rect x="1101.2" y="168.3" width="2.4" height="2.4"/>
<rect x="1104.3" y="165.8" width="2.4" height="2.4"/>
<rect x="1107.5" y="166.6" width="2.4" height="2.4"/>
<rect x="1111.6" y="168.8" width="2.4" height="2.4"/>
<rect x="1114.4" y="167.5" width="2.4" height="2.4"/>
<rect x="1118.3" y="167.7" width="2.4" height="2.4"/>
<rect x="1122.5" y="168.0" width="2.4" height="2.4"/>
<rect x="1125.7" y="168.6" width="2.4" height="2.4"/>
<rect x="1129.9" y="166.7" width="2.4" height="2.4"/>
<rect x="1133.2" y="168.4" width="2.4" height="2.4"/>
<rect x="1136.7" y="168.6" width="2.4" height="2.4"/>
<rect x="1140.4" y="169.1" width="2.4" height="2.4"/>
<rect x="1144.1" y="168.2" width="2.4" height="2.4"/>
<rect x="1147.2" y="167.7" width="2.4" height="2.4"/>
<rect x="1150.2" y="168.6" width="2.4" height="2.4"/>
<rect x="1153.6" y="169.3" width="2.4" height="2.4"/>
<rect x="1157.0" y="168.3" width="2.4" height="2.4"/>
<rect x="1161.0" y="169.6" width="2.4" height="2.4"/>
<rect x="1163.7" y="168.5" width="2.4" height="2.4"/>
<rect x="1168.0" y="170.4" width="2.4" height="2.4"/>
<rect x="1170.5" y="168.5" width="2.4" height="2.4"/>
<rect x="1174.7" y="166.3" width="2.4" height="2.4"/>
<rect x="1178.4" y="170.9" width="2.4" height="2.4"/>
<rect x="1182.4" y="170.2" width="2.4" height="2.4"/>
<rect x="1185.3" y="170.9" width="2.4" height="2.4"/>
<rect x="1188.5" y="170.3" width="2.4" height="2.4"/>
<rect x="1191.2" y="166.3" width="2.4" height="2.4"/>
<rect x="1194.0" y="167.1" width="2.4" height="2.4"/>
<rect x="1197.2" y="169.6" width="2.4" height="2.4"/>
<rect x="1199.8" y="168.6" width="2.4" height="2.4"/>
<rect x="1204.1" y="170.9" width="2.4" height="2.4"/>
<rect x="1206.5" y="166.1" width="2.4" height="2.4"/>
<rect x="1209.0" y="167.4" width="2.4" height="2.4"/>
<rect x="1213.1" y="169.8" width="2.4" height="2.4"/>
<rect x="1236.0" y="169.0" width="2.4" height="2.4"/>
<rect x="1239.0" y="166.0" width="2.4" height="2.4"/>
<rect x="1242.3" y="168.7" width="2.4" height="2.4"/>
<rect x="1246.0" y="166.3" width="2.4" height="2.4"/>
<rect x="1248.4" y="168.4" width="2.4" height="2.4"/>
<rect x="1252.1" y="166.9" width="2.4" height="2.4"/>
<rect x="1256.0" y="168.1" width="2.4" height="2.4"/>
<rect x="789.8" y="206.0" width="2.4" height="2.4"/>
<rect x="802.0" y="189.7" width="2.4" height="2.4"/>
<rect x="814.4" y="168.6" width="2.4" height="2.4"/>
<rect x="829.9" y="144.8" width="2.4" height="2.4"/>
<rect x="846.0" y="111.2" width="2.4" height="2.4"/>
<rect x="857.9" y="86.6" width="2.4" height="2.4"/>
<rect x="876.2" y="67.6" width="2.4" height="2.4"/>
<rect x="887.9" y="63.7" width="2.4" height="2.4"/>
<rect x="903.9" y="77.2" width="2.4" height="2.4"/>
<rect x="916.5" y="104.3" width="2.4" height="2.4"/>
<rect x="935.9" y="134.9" width="2.4" height="2.4"/>
<rect x="954.9" y="155.0" width="2.4" height="2.4"/>
<rect x="957.7" y="159.2" width="2.4" height="2.4"/>
<rect x="962.0" y="160.8" width="2.4" height="2.4"/>
<rect x="966.3" y="165.9" width="2.4" height="2.4"/>
<rect x="970.5" y="170.5" width="2.4" height="2.4"/>
<rect x="973.1" y="169.0" width="2.4" height="2.4"/>
<rect x="975.8" y="175.0" width="2.4" height="2.4"/>
<rect x="980.0" y="176.4" width="2.4" height="2.4"/>
<rect x="982.6" y="182.5" width="2.4" height="2.4"/>
<rect x="986.0" y="184.3" width="2.4" height="2.4"/>
<rect x="989.0" y="186.1" width="2.4" height="2.4"/>
<rect x="992.4" y="190.3" width="2.4" height="2.4"/>
<rect x="995.1" y="194.2" width="2.4" height="2.4"/>
<rect x="997.8" y="199.3" width="2.4" height="2.4"/>
<rect x="1002.0" y="201.1" width="2.4" height="2.4"/>
<rect x="1004.8" y="205.1" width="2.4" height="2.4"/>
<rect x="1008.2" y="208.0" width="2.4" height="2.4"/>
<rect x="1011.9" y="211.2" width="2.4" height="2.4"/>
<rect x="1015.4" y="219.8" width="2.4" height="2.4"/>
<rect x="1019.0" y="222.5" width="2.4" height="2.4"/>
<rect x="1023.4" y="226.1" width="2.4" height="2.4"/>
<rect x="1027.1" y="227.8" width="2.4" height="2.4"/>
<rect x="1030.0" y="234.3" width="2.4" height="2.4"/>
<rect x="1034.4" y="234.8" width="2.4" height="2.4"/>
<rect x="1038.3" y="238.1" width="2.4" height="2.4"/>
<rect x="1041.6" y="242.0" width="2.4" height="2.4"/>
<rect x="1044.1" y="244.5" width="2.4" height="2.4"/>
<rect x="1048.1" y="243.7" width="2.4" height="2.4"/>
<rect x="1052.5" y="247.5" width="2.4" height="2.4"/>
<rect x="1056.1" y="245.6" width="2.4" height="2.4"/>
<rect x="1058.5" y="245.4" width="2.4" height="2.4"/>
<rect x="1060.9" y="248.0" width="2.4" height="2.4"/>
<rect x="1064.2" y="248.9" width="2.4" height="2.4"/>
<rect x="1067.6" y="248.2" width="2.4" height="2.4"/>
<rect x="1070.5" y="247.4" width="2.4" height="2.4"/>
<rect x="1074.2" y="248.2" width="2.4" height="2.4"/>
<rect x="1077.3" y="248.3" width="2.4" height="2.4"/>
<rect x="1079.9" y="247.7" width="2.4" height="2.4"/>
<rect x="1083.4" y="249.4" width="2.4" height="2.4"/>
<rect x="1087.0" y="249.4" width="2.4" height="2.4"/>
<rect x="1090.4" y="250.9" width="2.4" height="2.4"/>
<rect x="1093.0" y="250.1" width="2.4" height="2.4"/>
<rect x="1095.7" y="248.7" width="2.4" height="2.4"/>
<rect x="1098.3" y="247.1" width="2.4" height="2.4"/>
<rect x="1102.3" y="246.8" width="2.4" height="2.4"/>
<rect x="1105.5" y="249.1" width="2.4" height="2.4"/>
<rect x="1109.2" y="249.3" width="2.4" height="2.4"/>
<rect x="1112.7" y="247.8" width="2.4" height="2.4"/>
<rect x="1116.0" y="250.8" width="2.4" height="2.4"/>
<rect x="1120.3" y="249.1" width="2.4" height="2.4"/>
<rect x="1124.5" y="248.4" width="2.4" height="2.4"/>
<rect x="1127.0" y="248.1" width="2.4" height="2.4"/>
<rect x="1129.8" y="249.5" width="2.4" height="2.4"/>
<rect x="1132.3" y="250.0" width="2.4" height="2.4"/>
<rect x="1135.8" y="250.0" width="2.4" height="2.4"/>
<rect x="1140.1" y="251.1" width="2.4" height="2.4"/>
<rect x="1143.7" y="251.5" width="2.4" height="2.4"/>
<rect x="1147.2" y="249.0" width="2.4" height="2.4"/>
<rect x="1149.9" y="248.6" width="2.4" height="2.4"/>
<rect x="1152.9" y="250.5" width="2.4" height="2.4"/>
<rect x="1157.1" y="251.0" width="2.4" height="2.4"/>
<rect x="1161.1" y="250.4" width="2.4" height="2.4"/>
<rect x="1165.2" y="250.3" width="2.4" height="2.4"/>
<rect x="1169.1" y="248.1" width="2.4" height="2.4"/>
<rect x="1172.4" y="251.2" width="2.4" height="2.4"/>
<rect x="1175.2" y="251.6" width="2.4" height="2.4"/>
<rect x="1177.7" y="251.5" width="2.4" height="2.4"/>
<rect x="1180.7" y="250.9" width="2.4" height="2.4"/>
<rect x="1184.8" y="248.8" width="2.4" height="2.4"/>
<rect x="1188.7" y="251.2" width="2.4" height="2.4"/>
<rect x="1191.9" y="253.5" width="2.4" height="2.4"/>
<rect x="1195.9" y="250.7" width="2.4" height="2.4"/>
<rect x="1199.6" y="252.0" width="2.4" height="2.4"/>
<rect x="1204.0" y="253.1" width="2.4" height="2.4"/>
<rect x="1206.4" y="255.6" width="2.4" height="2.4"/>
<rect x="1209.3" y="253.0" width="2.4" height="2.4"/>
<rect x="1213.6" y="255.5" width="2.4" height="2.4"/>
<rect x="1235.0" y="256.0" width="2.4" height="2.4"/>
<rect x="1237.9" y="253.9" width="2.4" height="2.4"/>
<rect x="1242.1" y="253.0" width="2.4" height="2.4"/>
<rect x="1245.8" y="253.1" width="2.4" height="2.4"/>
<rect x="1250.2" y="252.2" width="2.4" height="2.4"/>
<rect x="1254.0" y="255.8" width="2.4" height="2.4"/>
<rect x="1258.2" y="253.3" width="2.4" height="2.4"/>
<rect x="788.7" y="238.3" width="2.4" height="2.4"/>
<rect x="802.0" y="219.1" width="2.4" height="2.4"/>
<rect x="821.9" y="187.6" width="2.4" height="2.4"/>
<rect x="834.5" y="168.4" width="2.4" height="2.4"/>
<rect x="854.6" y="133.6" width="2.4" height="2.4"/>
<rect x="869.1" y="110.6" width="2.4" height="2.4"/>
<rect x="880.7" y="103.8" width="2.4" height="2.4"/>
<rect x="898.6" y="106.2" width="2.4" height="2.4"/>
<rect x="916.9" y="121.5" width="2.4" height="2.4"/>
<rect x="928.7" y="136.6" width="2.4" height="2.4"/>
<rect x="947.7" y="160.8" width="2.4" height="2.4"/>
<rect x="966.8" y="180.2" width="2.4" height="2.4"/>
<rect x="971.0" y="182.8" width="2.4" height="2.4"/>
<rect x="975.2" y="187.8" width="2.4" height="2.4"/>
<rect x="978.0" y="189.7" width="2.4" height="2.4"/>
<rect x="980.6" y="195.4" width="2.4" height="2.4"/>
<rect x="984.7" y="197.2" width="2.4" height="2.4"/>
<rect x="988.3" y="201.2" width="2.4" height="2.4"/>
<rect x="991.3" y="201.3" width="2.4" height="2.4"/>
<rect x="993.9" y="207.8" width="2.4" height="2.4"/>
<rect x="996.7" y="210.0" width="2.4" height="2.4"/>
<rect x="999.7" y="211.2" width="2.4" height="2.4"/>
<rect x="1002.6" y="214.6" width="2.4" height="2.4"/>
<rect x="1005.6" y="217.1" width="2.4" height="2.4"/>
<rect x="1008.6" y="219.0" width="2.4" height="2.4"/>
<rect x="1012.9" y="221.8" width="2.4" height="2.4"/>
<rect x="1016.6" y="228.0" width="2.4" height="2.4"/>
<rect x="1019.0" y="228.7" width="2.4" height="2.4"/>
<rect x="1023.0" y="234.2" width="2.4" height="2.4"/>
<rect x="1026.1" y="235.3" width="2.4" height="2.4"/>
<rect x="1028.9" y="236.3" width="2.4" height="2.4"/>
<rect x="1033.0" y="243.5" width="2.4" height="2.4"/>
<rect x="1035.8" y="244.5" width="2.4" height="2.4"/>
<rect x="1038.1" y="245.4" width="2.4" height="2.4"/>
<rect x="1042.5" y="250.1" width="2.4" height="2.4"/>
<rect x="1044.9" y="247.6" width="2.4" height="2.4"/>
<rect x="1048.9" y="252.0" width="2.4" height="2.4"/>
<rect x="1051.7" y="252.2" width="2.4" height="2.4"/>
<rect x="1055.7" y="256.1" width="2.4" height="2.4"/>
<rect x="1058.7" y="259.1" width="2.4" height="2.4"/>
<rect x="1061.5" y="259.1" width="2.4" height="2.4"/>
<rect x="1065.3" y="260.7" width="2.4" height="2.4"/>
<rect x="1069.0" y="263.2" width="2.4" height="2.4"/>
<rect x="1071.5" y="265.1" width="2.4" height="2.4"/>
<rect x="1075.5" y="264.2" width="2.4" height="2.4"/>
<rect x="1079.2" y="266.9" width="2.4" height="2.4"/>
<rect x="1082.3" y="270.2" width="2.4" height="2.4"/>
<rect x="1086.5" y="273.3" width="2.4" height="2.4"/>
<rect x="1089.0" y="273.2" width="2.4" height="2.4"/>
<rect x="1091.8" y="272.0" width="2.4" height="2.4"/>
<rect x="1095.2" y="275.9" width="2.4" height="2.4"/>
<rect x="1098.3" y="273.9" width="2.4" height="2.4"/>
<rect x="1101.6" y="272.7" width="2.4" height="2.4"/>
<rect x="1105.1" y="272.7" width="2.4" height="2.4"/>
<rect x="1108.8" y="269.2" width="2.4" height="2.4"/>
<rect x="1111.9" y="270.9" width="2.4" height="2.4"/>
<rect x="1116.0" y="272.5" width="2.4" height="2.4"/>
<rect x="1119.7" y="272.0" width="2.4" height="2.4"/>
<rect x="1123.0" y="271.3" width="2.4" height="2.4"/>
<rect x="1127.0" y="271.2" width="2.4" height="2.4"/>
<rect x="1130.3" y="271.2" width="2.4" height="2.4"/>
<rect x="1134.5" y="271.3" width="2.4" height="2.4"/>
<rect x="1137.5" y="272.3" width="2.4" height="2.4"/>
<rect x="1141.3" y="271.9" width="2.4" height="2.4"/>
<rect x="1144.0" y="270.8" width="2.4" height="2.4"/>
<rect x="1146.9" y="270.8" width="2.4" height="2.4"/>
<rect x="1149.6" y="273.3" width="2.4" height="2.4"/>
<rect x="1152.6" y="273.3" width="2.4" height="2.4"/>
<rect x="1156.5" y="275.7" width="2.4" height="2.4"/>
<rect x="1159.1" y="272.7" width="2.4" height="2.4"/>
<rect x="1162.2" y="271.9" width="2.4" height="2.4"/>
<rect x="1166.6" y="272.8" width="2.4" height="2.4"/>
<rect x="1169.9" y="269.9" width="2.4" height="2.4"/>
<rect x="1172.7" y="271.8" width="2.4" height="2.4"/>
<rect x="1175.5" y="271.8" width="2.4" height="2.4"/>
<rect x="1178.6" y="273.9" width="2.4" height="2.4"/>
<rect x="1182.6" y="272.9" width="2.4" height="2.4"/>
<rect x="1186.4" y="270.6" width="2.4" height="2.4"/>
<rect x="1189.8" y="272.8" width="2.4" height="2.4"/>
<rect x="1192.4" y="271.7" width="2.4" height="2.4"/>
<rect x="1196.3" y="272.0" width="2.4" height="2.4"/>
<rect x="1200.6" y="271.1" width="2.4" height="2.4"/>
<rect x="1204.5" y="273.7" width="2.4" height="2.4"/>
<rect x="1207.7" y="273.2" width="2.4" height="2.4"/>
<rect x="1211.9" y="275.1" width="2.4" height="2.4"/>
<rect x="1215.8" y="270.8" width="2.4" height="2.4"/>
<rect x="1236.1" y="271.4" width="2.4" height="2.4"/>
<rect x="1239.4" y="273.4" width="2.4" height="2.4"/>
<rect x="1242.0" y="276.1" width="2.4" height="2.4"/>
<rect x="1245.2" y="274.7" width="2.4" height="2.4"/>
<rect x="1248.9" y="271.9" width="2.4" height="2.4"/>
<rect x="1251.8" y="272.7" width="2.4" height="2.4"/>
<rect x="1255.4" y="275.0" width="2.4" height="2.4"/>
<rect x="792.6" y="209.9" width="2.4" height="2.4"/>
<rect x="810.1" y="202.3" width="2.4" height="2.4"/>
<rect x="828.7" y="195.6" width="2.4" height="2.4"/>
<rect x="849.3" y="195.0" width="2.4" height="2.4"/>
<rect x="860.9" y="190.2" width="2.4" height="2.4"/>
<rect x="879.6" y="187.7" width="2.4" height="2.4"/>
<rect x="899.8" y="179.1" width="2.4" height="2.4"/>
<rect x="916.5" y="169.3" width="2.4" height="2.4"/>
<rect x="932.9" y="156.0" width="2.4" height="2.4"/>
<rect x="950.3" y="144.7" width="2.4" height="2.4"/>
<rect x="969.4" y="147.8" width="2.4" height="2.4"/>
<rect x="973.7" y="151.3" width="2.4" height="2.4"/>
<rect x="976.5" y="152.9" width="2.4" height="2.4"/>
<rect x="980.5" y="155.0" width="2.4" height="2.4"/>
<rect x="983.1" y="159.6" width="2.4" height="2.4"/>
<rect x="985.6" y="159.9" width="2.4" height="2.4"/>
<rect x="988.5" y="162.7" width="2.4" height="2.4"/>
<rect x="991.8" y="166.3" width="2.4" height="2.4"/>
<rect x="995.0" y="169.0" width="2.4" height="2.4"/>
<rect x="997.9" y="171.5" width="2.4" height="2.4"/>
<rect x="1000.8" y="176.1" width="2.4" height="2.4"/>
<rect x="1004.2" y="176.8" width="2.4" height="2.4"/>
<rect x="1007.0" y="184.0" width="2.4" height="2.4"/>
<rect x="1009.9" y="185.2" width="2.4" height="2.4"/>
<rect x="1012.5" y="190.0" width="2.4" height="2.4"/>
<rect x="1016.2" y="190.9" width="2.4" height="2.4"/>
<rect x="1019.5" y="196.3" width="2.4" height="2.4"/>
<rect x="1023.9" y="201.7" width="2.4" height="2.4"/>
<rect x="1027.0" y="204.3" width="2.4" height="2.4"/>
<rect x="1031.0" y="208.8" width="2.4" height="2.4"/>
<rect x="1034.3" y="213.5" width="2.4" height="2.4"/>
<rect x="1037.0" y="218.2" width="2.4" height="2.4"/>
<rect x="1041.1" y="218.4" width="2.4" height="2.4"/>
<rect x="1044.0" y="225.4" width="2.4" height="2.4"/>
<rect x="1047.1" y="226.1" width="2.4" height="2.4"/>
<rect x="1049.9" y="230.5" width="2.4" height="2.4"/>
<rect x="1052.3" y="231.1" width="2.4" height="2.4"/>
<rect x="1055.2" y="232.5" width="2.4" height="2.4"/>
<rect x="1058.2" y="234.6" width="2.4" height="2.4"/>
<rect x="1061.8" y="239.5" width="2.4" height="2.4"/>
<rect x="1065.6" y="240.0" width="2.4" height="2.4"/>
<rect x="1069.7" y="248.0" width="2.4" height="2.4"/>
<rect x="1072.2" y="248.8" width="2.4" height="2.4"/>
<rect x="1076.2" y="247.2" width="2.4" height="2.4"/>
<rect x="1078.8" y="252.7" width="2.4" height="2.4"/>
<rect x="1081.2" y="251.2" width="2.4" height="2.4"/>
<rect x="1083.6" y="256.5" width="2.4" height="2.4"/>
<rect x="1086.5" y="255.4" width="2.4" height="2.4"/>
<rect x="1089.1" y="257.8" width="2.4" height="2.4"/>
<rect x="1093.1" y="259.7" width="2.4" height="2.4"/>
<rect x="1096.2" y="262.0" width="2.4" height="2.4"/>
<rect x="1100.2" y="264.0" width="2.4" height="2.4"/>
<rect x="1102.9" y="263.7" width="2.4" height="2.4"/>
<rect x="1106.9" y="261.9" width="2.4" height="2.4"/>
<rect x="1110.6" y="266.4" width="2.4" height="2.4"/>
<rect x="1114.7" y="264.3" width="2.4" height="2.4"/>
<rect x="1117.5" y="266.3" width="2.4" height="2.4"/>
<rect x="1121.4" y="266.8" width="2.4" height="2.4"/>
<rect x="1124.6" y="271.2" width="2.4" height="2.4"/>
<rect x="1127.6" y="269.8" width="2.4" height="2.4"/>
<rect x="1130.4" y="273.4" width="2.4" height="2.4"/>
<rect x="1132.9" y="274.7" width="2.4" height="2.4"/>
<rect x="1136.2" y="275.9" width="2.4" height="2.4"/>
<rect x="1139.6" y="277.8" width="2.4" height="2.4"/>
<rect x="1143.1" y="278.3" width="2.4" height="2.4"/>
<rect x="1147.2" y="280.1" width="2.4" height="2.4"/>
<rect x="1150.6" y="279.7" width="2.4" height="2.4"/>
<rect x="1154.7" y="282.4" width="2.4" height="2.4"/>
<rect x="1157.8" y="281.0" width="2.4" height="2.4"/>
<rect x="1160.3" y="287.1" width="2.4" height="2.4"/>
<rect x="1164.0" y="286.1" width="2.4" height="2.4"/>
<rect x="1167.6" y="287.0" width="2.4" height="2.4"/>
<rect x="1171.4" y="289.5" width="2.4" height="2.4"/>
<rect x="1175.8" y="288.8" width="2.4" height="2.4"/>
<rect x="1179.2" y="286.8" width="2.4" height="2.4"/>
<rect x="1181.7" y="290.5" width="2.4" height="2.4"/>
<rect x="1185.5" y="289.5" width="2.4" height="2.4"/>
<rect x="1189.6" y="289.9" width="2.4" height="2.4"/>
<rect x="1192.8" y="289.3" width="2.4" height="2.4"/>
<rect x="1196.7" y="291.6" width="2.4" height="2.4"/>
<rect x="1199.5" y="289.9" width="2.4" height="2.4"/>
<rect x="1203.0" y="292.1" width="2.4" height="2.4"/>
<rect x="1207.1" y="290.9" width="2.4" height="2.4"/>
<rect x="1210.3" y="294.2" width="2.4" height="2.4"/>
<rect x="1213.7" y="291.0" width="2.4" height="2.4"/>
<rect x="1236.1" y="293.2" width="2.4" height="2.4"/>
<rect x="1240.1" y="290.2" width="2.4" height="2.4"/>
<rect x="1243.1" y="291.6" width="2.4" height="2.4"/>
<rect x="1246.7" y="288.6" width="2.4" height="2.4"/>
<rect x="1249.1" y="288.6" width="2.4" height="2.4"/>
<rect x="1253.0" y="292.3" width="2.4" height="2.4"/>
<rect x="1255.5" y="289.8" width="2.4" height="2.4"/>
<rect x="305.0" y="43.6" width="2.4" height="2.4"/>
<rect x="297.8" y="53.1" width="2.4" height="2.4"/>
<rect x="301.1" y="54.1" width="2.4" height="2.4"/>
<rect x="293.2" y="76.6" width="2.4" height="2.4"/>
<rect x="279.8" y="96.8" width="2.4" height="2.4"/>
<rect x="289.8" y="94.8" width="2.4" height="2.4"/>
<rect x="285.8" y="106.8" width="2.4" height="2.4"/>
<rect x="300.8" y="93.8" width="2.4" height="2.4"/>
<rect x="315.8" y="97.8" width="2.4" height="2.4"/>
<rect x="318.8" y="110.8" width="2.4" height="2.4"/>
<rect x="312.8" y="115.8" width="2.4" height="2.4"/>
<rect x="307.8" y="120.8" width="2.4" height="2.4"/>
<rect x="324.8" y="119.3" width="2.4" height="2.4"/>
<rect x="327.8" y="119.8" width="2.4" height="2.4"/>
<rect x="240.8" y="209.8" width="2.4" height="2.4"/>
<rect x="403.3" y="190.8" width="2.4" height="2.4"/>
<rect x="415.8" y="206.8" width="2.4" height="2.4"/>
<rect x="425.8" y="212.8" width="2.4" height="2.4"/>
<rect x="401.8" y="182.8" width="2.4" height="2.4"/>
<rect x="539.8" y="157.8" width="2.4" height="2.4"/>
<rect x="551.8" y="156.8" width="2.4" height="2.4"/>
<rect x="586.8" y="154.8" width="2.4" height="2.4"/>
<rect x="609.8" y="150.8" width="2.4" height="2.4"/>
<rect x="634.8" y="152.8" width="2.4" height="2.4"/>
<rect x="651.8" y="152.8" width="2.4" height="2.4"/>
<rect x="681.8" y="152.8" width="2.4" height="2.4"/>
<rect x="693.8" y="154.8" width="2.4" height="2.4"/>
<rect x="595.8" y="178.8" width="2.4" height="2.4"/>
<rect x="625.8" y="170.8" width="2.4" height="2.4"/>
<rect x="481.6" y="220.7" width="2.4" height="2.4"/>
<rect x="485.9" y="224.1" width="2.4" height="2.4"/>
<rect x="491.8" y="148.8" width="2.4" height="2.4"/>
<rect x="498.8" y="154.8" width="2.4" height="2.4"/>
<rect x="445.8" y="156.8" width="2.4" height="2.4"/>
<rect x="450.8" y="162.8" width="2.4" height="2.4"/>
<rect x="406.8" y="153.8" width="2.4" height="2.4"/>
<rect x="422.8" y="155.8" width="2.4" height="2.4"/>
<rect x="700.8" y="160.8" width="2.4" height="2.4"/>
<rect x="701.8" y="167.8" width="2.4" height="2.4"/>
<rect x="658.8" y="163.8" width="2.4" height="2.4"/>
<rect x="672.8" y="164.8" width="2.4" height="2.4"/>
<rect x="853.8" y="70.4" width="2.4" height="2.4"/>
<rect x="858.5" y="65.7" width="2.4" height="2.4"/>
<rect x="862.7" y="61.0" width="2.4" height="2.4"/>
<rect x="866.4" y="57.8" width="2.4" height="2.4"/>
<rect x="870.2" y="61.6" width="2.4" height="2.4"/>
<rect x="874.5" y="56.3" width="2.4" height="2.4"/>
<rect x="878.2" y="51.6" width="2.4" height="2.4"/>
<rect x="882.4" y="46.0" width="2.4" height="2.4"/>
<rect x="886.1" y="47.3" width="2.4" height="2.4"/>
<rect x="889.5" y="63.4" width="2.4" height="2.4"/>
<rect x="892.3" y="64.2" width="2.4" height="2.4"/>
<rect x="895.1" y="64.8" width="2.4" height="2.4"/>
<rect x="898.3" y="65.3" width="2.4" height="2.4"/>
<rect x="901.7" y="65.7" width="2.4" height="2.4"/>
<rect x="890.4" y="77.3" width="2.4" height="2.4"/>
<rect x="885.7" y="84.5" width="2.4" height="2.4"/>
<rect x="881.6" y="89.1" width="2.4" height="2.4"/>
<rect x="877.9" y="94.2" width="2.4" height="2.4"/>
<rect x="874.5" y="102.3" width="2.4" height="2.4"/>
<rect x="870.7" y="105.1" width="2.4" height="2.4"/>
<rect x="867.0" y="106.0" width="2.4" height="2.4"/>
<rect x="861.4" y="113.5" width="2.4" height="2.4"/>
<rect x="858.5" y="114.5" width="2.4" height="2.4"/>
<rect x="854.8" y="122.9" width="2.4" height="2.4"/>
<rect x="842.6" y="105.1" width="2.4" height="2.4"/>
<rect x="846.3" y="105.5" width="2.4" height="2.4"/>
<rect x="850.1" y="107.0" width="2.4" height="2.4"/>
<rect x="838.8" y="128.5" width="2.4" height="2.4"/>
<rect x="906.0" y="77.0" width="2.4" height="2.4"/>
<rect x="910.1" y="92.0" width="2.4" height="2.4"/>
<rect x="917.6" y="89.7" width="2.4" height="2.4"/>
<rect x="921.4" y="99.5" width="2.4" height="2.4"/>
<rect x="925.1" y="105.1" width="2.4" height="2.4"/>
<rect x="929.8" y="108.8" width="2.4" height="2.4"/>
<rect x="933.6" y="109.8" width="2.4" height="2.4"/>
<rect x="937.3" y="113.5" width="2.4" height="2.4"/>
<rect x="941.1" y="114.5" width="2.4" height="2.4"/>
<rect x="944.8" y="111.1" width="2.4" height="2.4"/>
<rect x="948.6" y="114.1" width="2.4" height="2.4"/>
<rect x="893.2" y="92.0" width="2.4" height="2.4"/>
<rect x="897.9" y="98.0" width="2.4" height="2.4"/>
<rect x="902.6" y="103.2" width="2.4" height="2.4"/>
<rect x="906.4" y="105.5" width="2.4" height="2.4"/>
<rect x="908.3" y="114.5" width="2.4" height="2.4"/>
<rect x="912.9" y="113.5" width="2.4" height="2.4"/>
<rect x="917.6" y="114.1" width="2.4" height="2.4"/>
<rect x="897.9" y="122.0" width="2.4" height="2.4"/>
<rect x="901.7" y="121.0" width="2.4" height="2.4"/>
<rect x="894.2" y="129.5" width="2.4" height="2.4"/>
<rect x="928.8" y="125.7" width="2.4" height="2.4"/>
<rect x="787.6" y="192.8" width="2.4" height="2.4"/>
<rect x="792.1" y="188.0" width="2.4" height="2.4"/>
<rect x="803.3" y="189.8" width="2.4" height="2.4"/>
<rect x="799.6" y="198.8" width="2.4" height="2.4"/>
<rect x="795.8" y="201.1" width="2.4" height="2.4"/>
<rect x="787.6" y="217.6" width="2.4" height="2.4"/>
<rect x="791.3" y="221.3" width="2.4" height="2.4"/>
<rect x="795.8" y="217.6" width="2.4" height="2.4"/>
<rect x="798.8" y="216.5" width="2.4" height="2.4"/>
<rect x="804.1" y="213.1" width="2.4" height="2.4"/>
<rect x="811.6" y="212.3" width="2.4" height="2.4"/>
<rect x="843.1" y="185.0" width="2.4" height="2.4"/>
<rect x="866.3" y="183.8" width="2.4" height="2.4"/>
<rect x="870.8" y="175.6" width="2.4" height="2.4"/>
<rect x="822.8" y="195.1" width="2.4" height="2.4"/>
<rect x="827.3" y="206.3" width="2.4" height="2.4"/>
<rect x="815.3" y="205.6" width="2.4" height="2.4"/>
<rect x="854.3" y="199.6" width="2.4" height="2.4"/>
<rect x="858.8" y="196.6" width="2.4" height="2.4"/>
<rect x="861.8" y="196.3" width="2.4" height="2.4"/>
<rect x="889.8" y="194.8" width="2.4" height="2.4"/>
<rect x="1018.8" y="175.3" width="2.4" height="2.4"/>
<rect x="1137.8" y="183.8" width="2.4" height="2.4"/>
<rect x="1192.3" y="188.3" width="2.4" height="2.4"/>
<rect x="1187.8" y="233.3" width="2.4" height="2.4"/>
<rect x="1250.8" y="249.8" width="2.4" height="2.4"/>
<rect x="1246.8" y="278.3" width="2.4" height="2.4"/>
<rect x="1245.8" y="286.3" width="2.4" height="2.4"/>
<rect x="963.2" y="132.9" width="2.4" height="2.4"/>
<rect x="965.8" y="133.8" width="2.4" height="2.4"/>
<rect x="972.6" y="139.4" width="2.4" height="2.4"/>
<rect x="1013.8" y="154.4" width="2.4" height="2.4"/>
<rect x="1023.2" y="153.5" width="2.4" height="2.4"/>
<rect x="1026.8" y="155.3" width="2.4" height="2.4"/>
<rect x="1030.8" y="158.2" width="2.4" height="2.4"/>
<rect x="1034.8" y="158.8" width="2.4" height="2.4"/>
<rect x="951.8" y="163.8" width="2.4" height="2.4"/>
<rect x="961.3" y="165.8" width="2.4" height="2.4"/>
<rect x="959.4" y="179.8" width="2.4" height="2.4"/>
<rect x="966.8" y="178.8" width="2.4" height="2.4"/>
<rect x="972.6" y="184.5" width="2.4" height="2.4"/>
<rect x="976.3" y="186.3" width="2.4" height="2.4"/>
<rect x="970.8" y="187.3" width="2.4" height="2.4"/>
<rect x="965.1" y="184.5" width="2.4" height="2.4"/>
<rect x="993.2" y="185.4" width="2.4" height="2.4"/>
<rect x="1004.5" y="183.5" width="2.4" height="2.4"/>
<rect x="1011.8" y="185.4" width="2.4" height="2.4"/>
<rect x="1015.8" y="187.3" width="2.4" height="2.4"/>
<rect x="998.8" y="205.1" width="2.4" height="2.4"/>
<rect x="1004.5" y="208.8" width="2.4" height="2.4"/>
<rect x="1009.8" y="208.8" width="2.4" height="2.4"/>
<rect x="980.8" y="196.8" width="2.4" height="2.4"/>
<rect x="987.6" y="197.6" width="2.4" height="2.4"/>
<rect x="1019.5" y="202.3" width="2.4" height="2.4"/>
<rect x="1023.2" y="210.8" width="2.4" height="2.4"/>
<rect x="1028.8" y="211.6" width="2.4" height="2.4"/>
</g>
<g fill="none" stroke-width="2.95" stroke-linecap="butt" stroke-linejoin="round">
<path d="M236.3,166.6 C237.8,166.3 242.2,165.5 245.0,165.0 C247.8,164.5 250.3,163.9 253.1,163.4 C255.9,162.9 258.9,162.3 262.0,161.9 C265.1,161.5 269.0,161.6 271.4,161.2 C273.8,160.8 274.5,160.4 276.1,159.4 C277.7,158.4 279.2,156.8 280.8,155.2 C282.4,153.6 283.9,151.8 285.5,150.0 C287.1,148.2 288.6,146.3 290.2,144.4 C291.8,142.5 293.2,140.5 294.8,138.8 C296.4,137.1 297.9,135.4 299.5,134.1 C301.1,132.8 302.6,131.6 304.2,130.8 C305.8,130.0 307.3,129.6 308.9,129.4 C310.5,129.2 312.0,129.1 313.6,129.4 C315.2,129.7 316.7,130.4 318.3,131.3 C319.9,132.2 321.4,133.8 323.0,135.0 C324.6,136.2 326.2,137.6 327.7,138.8 C329.2,140.1 330.4,140.6 332.0,142.5 C333.6,144.4 335.1,147.2 337.6,150.0 C340.1,152.8 343.9,156.3 347.0,159.1 C350.1,161.9 353.5,164.8 356.3,166.6 C359.1,168.4 360.7,169.2 363.8,169.8 C366.9,170.4 371.1,170.2 375.0,170.3 C378.9,170.5 383.5,171.3 387.5,170.7 C391.5,170.1 394.7,167.7 398.8,166.9 C402.9,166.1 407.8,165.9 411.9,166.0 C415.9,166.1 419.7,166.7 423.1,167.3 C426.5,167.9 429.7,169.5 432.5,169.7 C435.3,169.9 436.9,168.5 440.0,168.4 C443.1,168.3 447.6,168.8 451.3,169.2 C455.1,169.6 458.4,170.6 462.5,170.7 C466.6,170.8 471.9,170.3 475.7,169.7 C479.4,169.1 481.9,167.8 485.0,166.9 C488.1,166.0 490.9,164.6 494.4,164.1 C497.8,163.6 502.3,163.8 505.7,164.1 C509.1,164.4 511.9,165.5 515.0,166.0 C518.1,166.5 521.3,166.6 524.4,166.9 C527.5,167.2 530.4,167.9 533.8,167.8 C537.2,167.8 541.2,167.0 545.0,166.6 C548.8,166.2 552.5,165.4 556.3,165.4 C560.0,165.4 563.8,166.5 567.5,166.7 C571.2,166.8 574.7,166.2 578.8,166.3 C582.9,166.4 588.1,167.7 591.9,167.2 C595.6,166.7 597.9,164.4 601.3,163.5 C604.7,162.6 609.1,162.2 612.5,161.6 C615.9,161.0 618.5,160.0 621.9,159.7 C625.3,159.4 629.4,159.5 633.1,159.7 C636.9,159.9 640.8,160.6 644.4,161.0 C648.0,161.4 653.0,162.0 654.7,162.2" stroke="#2b2b2b" stroke-width="2.6"/>
<path d="M676.3,162.5 C678.8,162.2 686.1,161.5 691.3,161.0 C696.5,160.5 704.6,159.9 707.3,159.7" stroke="#2b2b2b" stroke-width="2.6"/>
<path d="M236.3,191.0 C237.6,189.3 241.0,184.9 243.8,180.7 C246.6,176.5 250.0,171.6 253.1,165.7 C256.2,159.8 259.4,151.3 262.5,145.0 C265.6,138.7 269.0,134.0 271.9,128.1 C274.8,122.2 277.9,114.2 279.9,109.6 C281.9,105.0 282.8,103.4 284.0,100.5 C285.2,97.6 286.3,94.6 287.3,92.3 C288.3,90.0 289.1,88.0 289.8,86.5 C290.5,85.0 290.9,84.3 291.7,83.5 C292.5,82.7 293.3,82.0 294.8,81.6 C296.3,81.2 298.6,80.9 300.5,80.9 C302.4,80.9 304.8,81.1 306.3,81.6 C307.8,82.0 308.7,82.6 309.6,83.6 C310.5,84.5 311.0,85.6 311.7,87.3 C312.4,89.0 312.9,91.3 313.8,93.9 C314.7,96.5 316.2,100.2 317.1,103.0 C318.1,105.8 318.3,105.5 319.5,110.6 C320.7,115.7 322.6,126.8 324.4,133.8 C326.1,140.8 328.4,146.6 330.0,152.5 C331.6,158.4 332.2,163.8 333.8,169.4 C335.4,175.0 337.5,181.9 339.4,186.3 C341.3,190.7 342.8,193.2 345.0,195.7 C347.2,198.2 349.8,200.1 352.6,201.3 C355.4,202.6 358.9,203.1 362.0,203.2 C365.1,203.3 368.6,202.1 371.3,201.9 C374.0,201.7 375.6,201.8 378.0,202.0 C380.4,202.2 382.5,201.9 385.6,202.9 C388.8,203.9 393.1,206.0 396.9,208.1 C400.6,210.2 404.4,212.8 408.1,215.6 C411.9,218.4 416.3,222.6 419.4,225.0 C422.5,227.4 423.8,229.2 426.9,230.3 C430.0,231.4 434.7,230.8 438.1,231.6 C441.5,232.4 444.1,234.8 447.5,235.3 C450.9,235.8 455.1,235.1 458.8,234.8 C462.6,234.5 466.2,233.4 470.0,233.5 C473.8,233.6 477.9,234.5 481.3,235.5 C484.7,236.5 487.5,237.6 490.6,239.6 C493.7,241.6 496.9,245.1 500.0,247.5 C503.1,249.9 506.3,252.7 509.4,254.1 C512.5,255.5 516.2,255.7 518.8,256.0 C521.4,256.3 522.1,256.2 525.0,255.8 C527.9,255.4 532.5,254.6 536.3,253.8 C540.0,253.0 543.5,251.7 547.5,251.0 C551.5,250.3 556.2,249.2 560.6,249.6 C565.0,250.0 569.4,252.6 573.8,253.4 C578.2,254.2 582.5,254.2 586.9,254.7 C591.3,255.2 595.9,256.8 600.0,256.6 C604.1,256.4 607.1,254.6 611.3,253.6 C615.5,252.6 620.2,251.2 625.0,250.6 C629.8,250.0 635.9,249.8 640.0,250.0 C644.1,250.2 646.6,250.9 649.4,251.5 C652.1,252.1 655.3,253.1 656.5,253.4" stroke="#d34545"/>
<path d="M674.7,253.4 C676.7,253.0 683.3,251.6 686.9,251.0 C690.5,250.4 693.0,249.8 696.3,250.0 C699.6,250.2 704.9,251.6 706.6,251.9" stroke="#d34545"/>
<path d="M236.3,183.5 C238.2,182.1 243.8,178.3 247.5,175.0 C251.2,171.7 255.4,167.9 258.8,163.8 C262.2,159.7 264.7,156.2 268.1,150.6 C271.5,145.0 275.9,136.2 279.4,130.0 C282.8,123.8 286.0,117.8 288.8,113.5 C291.6,109.2 293.7,106.5 296.3,104.4 C298.9,102.3 301.6,100.1 304.7,100.7 C307.8,101.3 311.7,104.5 315.0,108.2 C318.3,112.0 321.6,118.8 324.4,123.2 C327.2,127.6 329.5,130.5 332.0,134.4 C334.5,138.3 336.6,143.1 339.4,146.9 C342.2,150.7 345.7,153.6 348.8,157.2 C351.9,160.8 355.0,164.6 358.1,168.5 C361.2,172.4 364.5,176.9 367.5,180.7 C370.5,184.5 373.3,187.8 376.3,191.3 C379.3,194.8 382.2,199.1 385.6,201.6 C389.0,204.1 393.1,204.4 396.9,206.3 C400.6,208.2 404.7,210.0 408.1,212.8 C411.5,215.6 414.4,218.9 417.5,223.1 C420.6,227.3 423.8,233.9 426.9,238.1 C430.0,242.3 433.2,245.5 436.3,248.5 C439.4,251.5 441.9,253.7 445.6,256.0 C449.4,258.3 454.7,260.6 458.8,262.5 C462.9,264.4 466.2,265.8 470.0,267.2 C473.8,268.6 476.9,269.8 481.3,270.6 C485.7,271.4 491.3,271.6 496.3,272.0 C501.3,272.4 506.5,273.4 511.3,273.2 C516.1,273.0 520.2,270.9 525.0,270.8 C529.8,270.7 534.7,271.6 540.0,272.5 C545.3,273.4 551.9,276.1 556.9,276.3 C561.9,276.5 565.9,274.5 570.0,273.5 C574.1,272.5 576.9,271.0 581.3,270.3 C585.7,269.6 591.3,269.3 596.3,269.3 C601.3,269.3 607.2,270.4 611.3,270.3 C615.4,270.2 618.1,269.2 621.0,268.8 C623.9,268.4 625.6,267.7 628.8,267.8 C632.0,267.9 636.6,268.9 640.0,269.7 C643.4,270.5 646.6,271.6 649.4,272.5 C652.1,273.4 655.3,274.8 656.5,275.3" stroke="#529cee"/>
<path d="M674.7,275.0 C676.4,274.4 681.4,272.5 685.0,271.6 C688.6,270.7 692.7,270.3 696.3,269.7 C699.9,269.1 704.9,268.1 706.6,267.8" stroke="#529cee"/>
<path d="M235.3,196.6 C238.3,195.9 247.3,193.6 253.1,192.3 C258.9,191.1 265.3,190.7 270.0,189.1 C274.7,187.5 277.9,185.2 281.3,182.5 C284.8,179.8 287.6,176.3 290.7,173.2 C293.8,170.1 296.9,166.5 300.0,163.8 C303.1,161.1 306.3,158.8 309.4,157.2 C312.5,155.6 316.0,154.6 318.8,154.4 C321.6,154.2 323.2,154.7 326.3,156.3 C329.4,157.9 334.2,161.0 337.6,163.8 C341.1,166.6 343.9,169.6 347.0,173.2 C350.1,176.8 353.2,181.2 356.3,185.4 C359.4,189.6 362.6,194.4 365.3,198.2 C368.0,202.0 369.7,203.8 372.5,208.1 C375.3,212.4 378.8,219.4 381.9,224.1 C385.0,228.8 387.6,231.9 391.3,236.3 C395.1,240.7 400.0,246.9 404.4,250.3 C408.8,253.7 413.1,254.9 417.5,256.9 C421.9,258.9 426.2,260.9 430.6,262.5 C435.0,264.1 439.4,264.7 443.8,266.3 C448.2,267.9 452.5,270.3 456.9,271.9 C461.3,273.5 465.9,274.8 470.0,276.0 C474.1,277.2 477.4,278.3 481.3,279.4 C485.2,280.5 488.0,281.9 493.1,282.8 C498.2,283.7 505.6,284.1 511.9,284.7 C518.1,285.3 525.3,286.4 530.6,286.6 C535.9,286.8 539.1,285.4 543.8,285.7 C548.5,286.0 554.1,287.6 558.8,288.5 C563.5,289.4 567.5,290.2 571.9,291.0 C576.3,291.8 580.9,292.2 585.0,293.1 C589.1,294.0 592.5,295.9 596.3,296.5 C600.0,297.1 604.1,297.0 607.5,296.9 C610.9,296.8 614.0,296.7 616.9,296.0 C619.8,295.3 622.4,293.3 625.0,292.8 C627.6,292.3 629.4,293.3 632.5,293.1 C635.6,292.9 639.8,291.7 643.8,291.6 C647.8,291.5 654.4,292.4 656.5,292.6" stroke="#33ae39"/>
<path d="M674.7,292.6 C676.7,292.5 683.3,292.1 686.9,292.2 C690.5,292.3 693.0,293.0 696.3,293.1 C699.6,293.2 704.9,293.1 706.6,293.1" stroke="#33ae39"/>
<path d="M791.5,212.6 C792.8,212.2 796.3,210.8 799.0,210.0 C801.7,209.2 803.6,208.5 807.5,207.5 C811.4,206.5 818.3,204.8 822.5,203.8 C826.7,202.8 829.0,202.4 832.5,201.4 C836.0,200.4 840.5,199.1 843.8,197.6 C847.1,196.1 849.8,194.5 852.5,192.5 C855.2,190.5 857.5,188.3 860.0,185.8 C862.5,183.3 865.2,180.3 867.5,177.5 C869.8,174.7 871.0,173.3 873.6,169.0 C876.2,164.7 880.0,156.9 883.2,151.9 C886.4,146.9 889.5,142.7 892.6,138.8 C895.7,134.9 898.9,131.2 902.0,128.4 C905.1,125.6 908.8,123.4 911.3,121.9 C913.8,120.4 914.6,120.1 917.0,119.4 C919.4,118.7 922.6,117.6 925.4,117.6 C928.2,117.6 931.1,118.7 933.8,119.6 C936.5,120.5 938.2,120.6 941.4,122.8 C944.6,125.0 949.0,128.9 953.1,132.5 C957.2,136.1 962.2,141.2 966.3,144.4 C970.4,147.6 974.1,149.7 977.5,151.9 C980.9,154.1 982.2,156.1 986.9,157.5 C991.6,158.9 999.5,159.5 1005.7,160.3 C1012.0,161.1 1017.9,161.4 1024.4,162.2 C1031.0,163.0 1037.8,164.0 1045.0,165.0 C1052.2,166.0 1061.3,167.9 1067.6,168.4 C1073.9,168.9 1075.7,167.8 1082.6,167.8 C1089.5,167.8 1099.2,168.1 1108.8,168.4 C1118.4,168.7 1128.1,169.4 1140.0,169.7 C1151.9,170.0 1167.1,170.0 1180.0,170.0 C1192.9,170.0 1211.1,169.6 1217.3,169.5" stroke="#2b2b2b" stroke-width="2.6"/>
<path d="M1235.1,168.8 L1259.5,169.3" stroke="#2b2b2b" stroke-width="2.6"/>
<path d="M789.4,208.2 C791.0,206.0 795.4,200.0 798.8,195.0 C802.2,190.0 806.2,183.5 810.0,178.2 C813.8,172.9 817.8,168.5 821.3,163.2 C824.8,157.9 827.9,151.6 830.7,146.3 C833.5,141.0 835.7,137.0 838.2,131.3 C840.7,125.6 842.9,118.3 845.7,112.0 C848.5,105.7 851.9,98.7 855.0,93.2 C858.1,87.7 861.3,83.0 864.4,79.1 C867.5,75.2 870.7,71.9 873.8,69.7 C876.9,67.5 880.1,66.2 883.2,66.0 C886.3,65.8 889.5,66.8 892.6,68.8 C895.7,70.8 898.9,74.5 902.0,78.2 C905.1,82.0 908.2,86.6 911.3,91.3 C914.4,96.0 917.6,101.5 920.7,106.3 C923.8,111.1 927.3,115.5 930.1,120.0 C932.9,124.5 934.8,128.7 937.6,133.1 C940.4,137.5 943.9,142.4 947.0,146.3 C950.1,150.2 952.6,153.0 956.4,156.6 C960.2,160.2 965.9,164.2 970.0,167.8 C974.1,171.4 977.5,174.4 981.3,178.2 C985.0,181.9 989.3,186.7 992.5,190.3 C995.7,193.9 997.3,196.5 1000.3,200.0 C1003.3,203.5 1007.1,207.1 1010.7,211.3 C1014.3,215.5 1018.1,221.2 1021.9,225.3 C1025.7,229.4 1029.5,232.7 1033.2,235.7 C1037.0,238.7 1040.7,241.3 1044.4,243.2 C1048.2,245.1 1051.0,246.3 1055.7,247.3 C1060.4,248.3 1066.0,248.7 1072.6,249.2 C1079.2,249.7 1087.3,250.1 1095.1,250.3 C1102.9,250.5 1110.9,250.0 1119.5,250.3 C1128.1,250.6 1139.2,251.8 1146.9,252.0 C1154.6,252.2 1159.5,251.6 1165.7,251.6 C1172.0,251.6 1178.2,251.9 1184.4,252.2 C1190.7,252.5 1197.7,253.1 1203.2,253.5 C1208.7,253.9 1215.0,254.2 1217.3,254.4" stroke="#d34545"/>
<path d="M1235.1,256.3 C1236.3,256.2 1238.5,255.6 1242.6,255.7 C1246.7,255.8 1256.7,256.5 1259.5,256.7" stroke="#d34545"/>
<path d="M788.9,239.4 C791.5,236.1 799.6,226.2 804.4,219.4 C809.2,212.6 813.4,205.4 817.5,198.8 C821.6,192.2 825.0,186.2 828.8,180.0 C832.5,173.8 836.2,167.6 840.0,161.3 C843.8,155.1 848.2,147.8 851.3,142.5 C854.4,137.2 856.6,133.4 858.8,129.4 C861.0,125.4 861.9,122.3 864.4,118.6 C866.9,114.9 870.3,109.7 873.8,107.2 C877.2,104.7 881.4,103.5 885.1,103.5 C888.9,103.5 892.5,105.2 896.3,107.2 C900.0,109.2 904.5,113.2 907.6,115.7 C910.7,118.2 912.0,118.8 915.1,122.0 C918.2,125.2 922.5,130.3 926.3,135.0 C930.0,139.7 933.9,145.3 937.6,150.0 C941.4,154.7 945.0,159.0 948.8,163.1 C952.5,167.2 955.9,170.6 960.1,174.4 C964.3,178.2 969.1,181.4 973.8,185.7 C978.5,190.0 983.5,195.4 988.1,200.0 C992.7,204.6 996.6,208.4 1001.3,213.1 C1006.0,217.8 1011.3,223.6 1016.3,228.1 C1021.3,232.6 1026.3,236.5 1031.3,240.3 C1036.3,244.1 1041.3,247.4 1046.3,250.7 C1051.3,254.0 1056.3,257.2 1061.3,260.0 C1066.3,262.8 1071.3,265.3 1076.3,267.5 C1081.3,269.7 1086.9,272.0 1091.3,273.2 C1095.7,274.4 1099.1,274.8 1102.6,274.7 C1106.0,274.6 1108.6,272.6 1112.0,272.4 C1115.4,272.2 1119.1,273.5 1123.2,273.5 C1127.3,273.5 1132.3,272.5 1136.4,272.4 C1140.5,272.3 1143.7,272.7 1147.6,272.8 C1151.5,272.9 1155.4,273.1 1160.0,273.2 C1164.6,273.3 1169.4,273.4 1175.0,273.5 C1180.6,273.6 1187.5,274.0 1193.8,274.1 C1200.1,274.2 1208.7,274.3 1212.6,274.1 C1216.5,273.9 1216.5,273.0 1217.3,272.8" stroke="#529cee"/>
<path d="M1235.1,275.4 L1259.5,275.4" stroke="#529cee"/>
<path d="M791.5,210.6 C792.8,210.1 796.3,208.7 799.0,207.8 C801.7,206.9 803.6,206.5 807.5,205.3 C811.4,204.1 817.5,202.2 822.5,200.8 C827.5,199.4 832.5,198.1 837.5,197.0 C842.5,195.9 847.5,194.8 852.5,194.0 C857.5,193.2 863.2,192.6 867.5,192.0 C871.8,191.4 874.5,191.1 878.0,190.2 C881.5,189.3 884.8,188.1 888.8,186.6 C892.8,185.1 897.9,183.0 902.0,181.0 C906.1,179.0 909.5,177.1 913.2,174.4 C917.0,171.7 920.8,168.0 924.5,165.0 C928.2,162.0 932.0,159.1 935.7,156.6 C939.5,154.1 943.5,151.6 947.0,150.0 C950.5,148.4 953.3,147.5 956.4,147.2 C959.5,146.9 962.6,147.2 965.7,148.1 C968.8,149.0 971.6,150.6 975.1,152.8 C978.6,155.0 983.4,158.3 986.9,161.3 C990.4,164.3 993.2,167.3 996.3,170.7 C999.4,174.1 1002.6,178.3 1005.7,181.9 C1008.8,185.5 1011.9,188.8 1015.0,192.2 C1018.1,195.6 1021.7,199.3 1024.4,202.5 C1027.1,205.7 1028.3,208.1 1031.3,211.3 C1034.3,214.5 1038.8,218.0 1042.5,221.6 C1046.2,225.2 1050.0,229.4 1053.8,232.8 C1057.6,236.2 1061.3,239.2 1065.1,242.2 C1068.8,245.2 1072.5,248.2 1076.3,250.7 C1080.0,253.2 1083.8,255.3 1087.6,257.2 C1091.3,259.1 1095.0,260.6 1098.8,261.9 C1102.5,263.2 1105.8,263.5 1110.1,264.9 C1114.4,266.3 1119.8,268.5 1124.4,270.4 C1129.0,272.2 1133.1,274.0 1137.5,276.0 C1141.9,278.0 1146.3,280.7 1150.7,282.6 C1155.1,284.5 1159.1,285.8 1163.8,287.2 C1168.5,288.6 1173.8,290.1 1178.8,291.0 C1183.8,291.9 1188.8,292.0 1193.8,292.3 C1198.8,292.6 1204.9,292.9 1208.8,292.9 C1212.7,292.9 1215.9,292.4 1217.3,292.3" stroke="#33ae39"/>
<path d="M1235.1,292.9 C1237.0,292.6 1242.2,291.5 1246.3,291.4 C1250.4,291.3 1257.3,292.3 1259.5,292.5" stroke="#33ae39"/>
</g>
<g fill="none" stroke-width="2.8">
<path d="M197.3,251.3 H238.8" stroke="#484848"/>
<path d="M197.3,274.8 H238.8" stroke="#dc6060"/>
<path d="M197.3,298.2 H238.8" stroke="#45bf4b"/>
<path d="M197.3,321.6 H238.8" stroke="#68abf3"/>
</g>
<g font-family="'Liberation Sans', Arial, sans-serif" fill="#3d3d3d" stroke="#3d3d3d" stroke-width="0.62" stroke-linejoin="round" filter="url(#softt)">
<text x="250" y="257.1" font-size="16.4" stroke-width="0.45" textLength="58.2" lengthAdjust="spacingAndGlyphs">Control</text>
<text x="250" y="280.6" font-size="16.4" stroke-width="0.45" textLength="24.6" lengthAdjust="spacingAndGlyphs">CA</text>
<text x="250" y="304.0" font-size="16.4" stroke-width="0.45" textLength="48.4" lengthAdjust="spacingAndGlyphs">GCA7</text>
<text x="250" y="327.4" font-size="16.4" stroke-width="0.45" textLength="48.8" lengthAdjust="spacingAndGlyphs">GCA3</text>
<text x="145.2" y="309.3" font-size="15.8" text-anchor="middle" textLength="10.6" lengthAdjust="spacingAndGlyphs">0</text>
<text x="145.2" y="263.9" font-size="15.8" text-anchor="middle" textLength="10.6" lengthAdjust="spacingAndGlyphs">1</text>
<text x="145.2" y="218.4" font-size="15.8" text-anchor="middle" textLength="10.6" lengthAdjust="spacingAndGlyphs">2</text>
<text x="145.2" y="173.0" font-size="15.8" text-anchor="middle" textLength="10.6" lengthAdjust="spacingAndGlyphs">3</text>
<text x="145.2" y="127.6" font-size="15.8" text-anchor="middle" textLength="10.6" lengthAdjust="spacingAndGlyphs">4</text>
<text x="145.2" y="82.2" font-size="15.8" text-anchor="middle" textLength="10.6" lengthAdjust="spacingAndGlyphs">5</text>
<text x="145.2" y="36.7" font-size="15.8" text-anchor="middle" textLength="10.6" lengthAdjust="spacingAndGlyphs">6</text>
<text x="235.5" y="370.6" font-size="15.8" text-anchor="middle" textLength="10.6" lengthAdjust="spacingAndGlyphs">0</text>
<text x="314.1" y="370.6" font-size="15.8" text-anchor="middle" textLength="20.0" lengthAdjust="spacingAndGlyphs">20</text>
<text x="392.6" y="370.6" font-size="15.8" text-anchor="middle" textLength="20.0" lengthAdjust="spacingAndGlyphs">40</text>
<text x="471.2" y="370.6" font-size="15.8" text-anchor="middle" textLength="20.0" lengthAdjust="spacingAndGlyphs">60</text>
<text x="549.8" y="370.6" font-size="15.8" text-anchor="middle" textLength="20.0" lengthAdjust="spacingAndGlyphs">80</text>
<text x="628.3" y="370.6" font-size="15.8" text-anchor="middle" textLength="29.2" lengthAdjust="spacingAndGlyphs">100</text>
<text x="789.1" y="370.6" font-size="15.8" text-anchor="middle" textLength="10.6" lengthAdjust="spacingAndGlyphs">0</text>
<text x="867.7" y="370.6" font-size="15.8" text-anchor="middle" textLength="20.0" lengthAdjust="spacingAndGlyphs">20</text>
<text x="946.2" y="370.6" font-size="15.8" text-anchor="middle" textLength="20.0" lengthAdjust="spacingAndGlyphs">40</text>
<text x="1024.8" y="370.6" font-size="15.8" text-anchor="middle" textLength="20.0" lengthAdjust="spacingAndGlyphs">60</text>
<text x="1103.4" y="370.6" font-size="15.8" text-anchor="middle" textLength="20.0" lengthAdjust="spacingAndGlyphs">80</text>
<text x="1182.0" y="370.6" font-size="15.8" text-anchor="middle" textLength="29.2" lengthAdjust="spacingAndGlyphs">100</text>
<text x="707.3" y="370.6" font-size="15.8" text-anchor="middle" textLength="30" lengthAdjust="spacingAndGlyphs">720</text>
<text x="1260.6" y="370.6" font-size="15.8" text-anchor="middle" textLength="30" lengthAdjust="spacingAndGlyphs">720</text>
</g>
<g font-family="'Liberation Sans', Arial, sans-serif" font-weight="bold" fill="#161616" stroke="#161616" stroke-width="0.3" filter="url(#softb)">
<text x="372" y="400.2" font-size="17.4" textLength="128" lengthAdjust="spacingAndGlyphs">Time (hours)</text>
<text x="926.6" y="400.2" font-size="17.4" textLength="128" lengthAdjust="spacingAndGlyphs">Time (hours)</text>
<text x="657.7" y="67.4" font-size="17.4" textLength="23.6" lengthAdjust="spacingAndGlyphs">Y1</text>
<text x="1198.8" y="64.9" font-size="17.4" textLength="25.5" lengthAdjust="spacingAndGlyphs">Y2</text>
<text transform="translate(111.6,305.2) rotate(-90)" font-size="15.6" textLength="105.7" lengthAdjust="spacingAndGlyphs">CO<tspan font-size="9.5" dy="3.2">2</tspan><tspan dy="-3.2"> production</tspan></text>
<text transform="translate(111.6,197.3) rotate(-90)" font-size="15.6" textLength="118" lengthAdjust="spacingAndGlyphs">(mg CO<tspan font-size="9.5" dy="3.2">2</tspan><tspan dy="-3.2"> kg</tspan><tspan font-size="8.6" dy="-6">-1</tspan><tspan dy="6"> h</tspan><tspan font-size="8.6" dy="-6">-1</tspan><tspan dy="6">)</tspan></text>
</g>
</g>
</svg>
<div class="cap">
<div class="cl" id="cl1" style="top:432.3px;transform:scaleX(1.3279)"><b>FIGURE 2 |</b> <span class="tt">Real-time respiration</span> rate (CO<sub>2</sub> production expressed as mg kg<sup>−1</sup> h<sup>−1</sup>) of "Duke" blueberry fruit subjected to controlled atmosphere (CA) applications</div>
<div class="cl" id="cl2" style="top:452.4px;transform:scaleX(1.332)">throughout 28 days of storage at 0°C and 90–95 RH%; air [control]; standard CA (10 kPa CO<sub>2</sub> + 5 kPa O<sub>2</sub>); graduated CA 7 (GCA7; 7 days to achieve standard CA</div>
<div class="cl" id="cl3" style="top:470.5px;transform:scaleX(1.3105)">values); and GCA3 (3 days to achieve standard CA values). Two consecutive seasons are considered 2017 (year 1; Y1) and 2018 (Y2). Lines represent smooth fit</div>
<div class="cl" id="cl4" style="top:488.9px;transform:scaleX(1.29)">curves.</div>
</div>
</body>
</html>
